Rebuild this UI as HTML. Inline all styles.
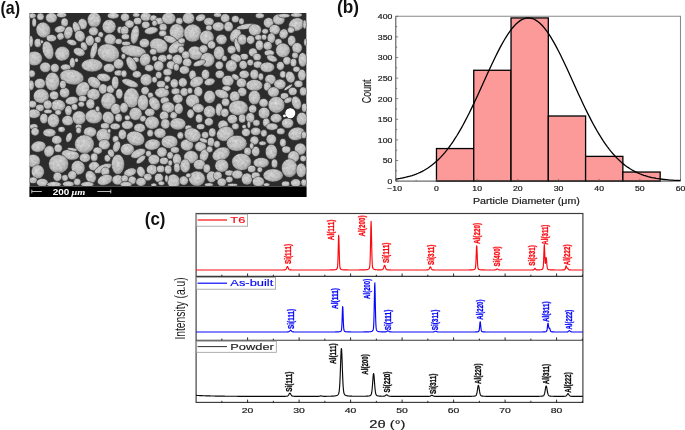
<!DOCTYPE html>
<html lang="en"><head><meta charset="utf-8"><title>Figure</title>
<style>html,body{margin:0;padding:0;background:#fff}body{width:685px;height:430px;overflow:hidden}svg{display:block}text{font-family:"Liberation Sans", sans-serif}</style>
</head><body>
<svg width="685" height="430" viewBox="0 0 685 430">
<defs>
<radialGradient id="pg" cx="45%" cy="42%" r="62%"><stop offset="0" stop-color="#cacaca"/><stop offset="0.6" stop-color="#bababa"/><stop offset="1" stop-color="#8a8a8a"/></radialGradient>
<filter id="bl" x="0" y="0" width="100%" height="100%" color-interpolation-filters="sRGB"><feGaussianBlur stdDeviation="0.65" result="b"/><feTurbulence type="fractalNoise" baseFrequency="0.4" numOctaves="2" seed="7" result="t"/><feColorMatrix in="t" type="matrix" values="1.6 0 0 0 -0.3  1.6 0 0 0 -0.3  1.6 0 0 0 -0.3  0 0 0 0 1" result="n"/><feComposite in="b" in2="n" operator="arithmetic" k1="0.16" k2="0.94" k3="0" k4="0" result="c"/><feComposite in="c" in2="b" operator="in"/></filter>
<clipPath id="semclip"><rect x="29.4" y="13" width="277.2" height="173.6"/></clipPath>
<clipPath id="bclip"><rect x="395.8" y="16.3" width="284.7" height="164.8"/></clipPath>
<clipPath id="cclip"><rect x="196" y="213.5" width="387" height="189"/></clipPath>
</defs>
<rect width="685" height="430" fill="#fff"/>
<g opacity="0.999">
<text x="0.4" y="13.6" font-size="17.8" font-weight="700" fill="#111" textLength="19.6" lengthAdjust="spacingAndGlyphs">(a)</text>
<text x="337.0" y="13.4" font-size="17.8" font-weight="700" fill="#111" textLength="22.0" lengthAdjust="spacingAndGlyphs">(b)</text>
<text x="144.8" y="225.4" font-size="17.8" font-weight="700" fill="#111" textLength="20.7" lengthAdjust="spacingAndGlyphs">(c)</text>
<g clip-path="url(#semclip)">
<rect x="29.4" y="13.0" width="277.2" height="173.6" fill="#2c2c2c"/>
<g filter="url(#bl)" fill="url(#pg)" stroke="#3c3c3c" stroke-width="0.55">
<ellipse cx="32.4" cy="15.7" rx="3.7" ry="2.8"/>
<ellipse cx="40.5" cy="16.8" rx="3.7" ry="3.7"/>
<ellipse cx="51.4" cy="17.8" rx="5.9" ry="5.2"/>
<ellipse cx="34.2" cy="22.5" rx="2.3" ry="4.5"/>
<ellipse cx="43.3" cy="30.0" rx="7.3" ry="8.0" transform="rotate(-20 43.3 30.0)"/>
<ellipse cx="51.4" cy="38.1" rx="5.2" ry="3.7"/>
<ellipse cx="64.6" cy="22.5" rx="3.7" ry="4.5"/>
<ellipse cx="60.0" cy="29.3" rx="5.6" ry="3.7" transform="rotate(-10 60.0 29.3)"/>
<ellipse cx="68.4" cy="32.7" rx="4.5" ry="6.6" transform="rotate(15 68.4 32.7)"/>
<ellipse cx="60.5" cy="36.4" rx="3.7" ry="3.7" transform="rotate(-30 60.5 36.4)"/>
<ellipse cx="82.6" cy="24.1" rx="4.7" ry="5.6" transform="rotate(-10 82.6 24.1)"/>
<ellipse cx="76.5" cy="27.9" rx="3.7" ry="6.6" transform="rotate(-20 76.5 27.9)"/>
<ellipse cx="79.9" cy="36.1" rx="5.2" ry="5.9" transform="rotate(-20 79.9 36.1)"/>
<ellipse cx="94.2" cy="19.8" rx="7.0" ry="7.6"/>
<ellipse cx="93.5" cy="31.3" rx="4.9" ry="4.5"/>
<ellipse cx="89.8" cy="40.6" rx="4.5" ry="5.4"/>
<ellipse cx="100.7" cy="34.7" rx="2.8" ry="3.0"/>
<ellipse cx="97.8" cy="39.7" rx="3.3" ry="3.3"/>
<ellipse cx="109.1" cy="26.6" rx="7.0" ry="7.0"/>
<ellipse cx="110.2" cy="39.5" rx="6.1" ry="5.6" transform="rotate(10 110.2 39.5)"/>
<ellipse cx="118.6" cy="41.5" rx="3.7" ry="3.0"/>
<ellipse cx="120.0" cy="30.0" rx="3.0" ry="3.7"/>
<ellipse cx="113.2" cy="15.7" rx="5.9" ry="3.3"/>
<ellipse cx="61.6" cy="15.0" rx="5.2" ry="2.8"/>
<ellipse cx="37.8" cy="42.9" rx="3.7" ry="4.5"/>
<ellipse cx="31.0" cy="41.5" rx="2.3" ry="5.9"/>
<ellipse cx="71.8" cy="42.5" rx="5.2" ry="3.0" transform="rotate(15 71.8 42.5)"/>
<ellipse cx="84.0" cy="46.3" rx="3.3" ry="4.5" transform="rotate(-20 84.0 46.3)"/>
<ellipse cx="48.0" cy="50.3" rx="5.6" ry="9.4" transform="rotate(-15 48.0 50.3)"/>
<ellipse cx="62.3" cy="53.7" rx="7.6" ry="7.3" transform="rotate(-20 62.3 53.7)"/>
<ellipse cx="79.2" cy="52.0" rx="6.1" ry="4.2" transform="rotate(20 79.2 52.0)"/>
<ellipse cx="93.8" cy="50.7" rx="3.3" ry="8.7" transform="rotate(15 93.8 50.7)"/>
<ellipse cx="108.4" cy="53.0" rx="11.2" ry="9.0" transform="rotate(15 108.4 53.0)"/>
<ellipse cx="34.4" cy="58.5" rx="8.0" ry="7.3"/>
<ellipse cx="72.4" cy="62.6" rx="3.0" ry="5.2"/>
<ellipse cx="45.3" cy="67.3" rx="5.6" ry="5.2"/>
<ellipse cx="54.8" cy="68.0" rx="4.5" ry="4.5"/>
<ellipse cx="65.7" cy="67.3" rx="5.2" ry="3.3"/>
<ellipse cx="92.1" cy="65.3" rx="10.8" ry="6.6"/>
<ellipse cx="109.1" cy="68.0" rx="5.9" ry="4.5"/>
<ellipse cx="118.6" cy="63.9" rx="5.2" ry="5.2"/>
<ellipse cx="76.5" cy="60.2" rx="1.9" ry="2.3"/>
<ellipse cx="41.9" cy="41.8" rx="1.6" ry="1.9"/>
<ellipse cx="125.0" cy="17.3" rx="4.5" ry="4.2"/>
<ellipse cx="136.3" cy="15.0" rx="3.7" ry="2.3"/>
<ellipse cx="145.8" cy="16.8" rx="5.6" ry="4.5"/>
<ellipse cx="153.5" cy="18.2" rx="3.7" ry="3.3"/>
<ellipse cx="137.6" cy="21.1" rx="4.2" ry="3.7"/>
<ellipse cx="129.5" cy="24.1" rx="4.7" ry="4.2"/>
<ellipse cx="145.8" cy="24.9" rx="4.2" ry="3.7"/>
<ellipse cx="124.7" cy="30.6" rx="4.2" ry="4.7"/>
<ellipse cx="134.9" cy="34.7" rx="4.2" ry="9.4" transform="rotate(10 134.9 34.7)"/>
<ellipse cx="125.4" cy="36.8" rx="4.2" ry="3.0"/>
<ellipse cx="151.2" cy="30.6" rx="7.0" ry="3.7" transform="rotate(-10 151.2 30.6)"/>
<ellipse cx="159.3" cy="21.1" rx="4.5" ry="3.7"/>
<ellipse cx="154.6" cy="23.2" rx="2.8" ry="3.0"/>
<ellipse cx="163.1" cy="27.3" rx="4.0" ry="4.0"/>
<ellipse cx="162.7" cy="33.4" rx="4.0" ry="3.3"/>
<ellipse cx="168.8" cy="18.4" rx="7.0" ry="6.1"/>
<ellipse cx="179.3" cy="21.1" rx="3.7" ry="3.7"/>
<ellipse cx="188.5" cy="18.2" rx="6.1" ry="5.9"/>
<ellipse cx="177.0" cy="32.0" rx="7.6" ry="8.4" transform="rotate(-15 177.0 32.0)"/>
<ellipse cx="192.6" cy="33.1" rx="9.0" ry="9.0"/>
<ellipse cx="170.2" cy="39.5" rx="7.0" ry="3.7" transform="rotate(20 170.2 39.5)"/>
<ellipse cx="200.7" cy="17.8" rx="5.2" ry="3.7" transform="rotate(-20 200.7 17.8)"/>
<ellipse cx="208.9" cy="21.8" rx="5.2" ry="4.2"/>
<ellipse cx="208.9" cy="27.9" rx="3.3" ry="3.0"/>
<ellipse cx="206.8" cy="37.4" rx="7.3" ry="7.3" transform="rotate(-20 206.8 37.4)"/>
<ellipse cx="211.6" cy="44.9" rx="4.2" ry="4.2"/>
<ellipse cx="144.4" cy="43.1" rx="5.2" ry="4.7"/>
<ellipse cx="158.7" cy="45.6" rx="9.4" ry="7.3" transform="rotate(20 158.7 45.6)"/>
<ellipse cx="133.5" cy="51.0" rx="12.9" ry="5.9" transform="rotate(10 133.5 51.0)"/>
<ellipse cx="126.1" cy="43.5" rx="4.5" ry="2.3"/>
<ellipse cx="176.3" cy="46.9" rx="9.4" ry="5.2" transform="rotate(-35 176.3 46.9)"/>
<ellipse cx="181.7" cy="40.8" rx="3.7" ry="3.0"/>
<ellipse cx="181.1" cy="49.7" rx="3.3" ry="3.7"/>
<ellipse cx="195.3" cy="53.0" rx="7.6" ry="7.0" transform="rotate(20 195.3 53.0)"/>
<ellipse cx="203.5" cy="49.0" rx="4.5" ry="4.2"/>
<ellipse cx="185.8" cy="55.1" rx="4.2" ry="4.2"/>
<ellipse cx="153.2" cy="51.7" rx="3.7" ry="3.3"/>
<ellipse cx="145.1" cy="59.8" rx="5.6" ry="6.6" transform="rotate(20 145.1 59.8)"/>
<ellipse cx="135.6" cy="59.8" rx="3.7" ry="2.8"/>
<ellipse cx="154.6" cy="58.5" rx="2.8" ry="2.8"/>
<ellipse cx="162.5" cy="58.5" rx="4.7" ry="4.0"/>
<ellipse cx="169.5" cy="57.1" rx="3.3" ry="3.0"/>
<ellipse cx="177.4" cy="59.8" rx="5.2" ry="5.6"/>
<ellipse cx="187.2" cy="62.6" rx="4.7" ry="4.5"/>
<ellipse cx="158.7" cy="65.9" rx="5.2" ry="5.2"/>
<ellipse cx="149.2" cy="68.0" rx="4.7" ry="3.7"/>
<ellipse cx="170.9" cy="65.3" rx="4.5" ry="4.5" transform="rotate(30 170.9 65.3)"/>
<ellipse cx="131.5" cy="63.9" rx="4.5" ry="8.0" transform="rotate(-30 131.5 63.9)"/>
<ellipse cx="123.4" cy="56.4" rx="2.3" ry="2.8"/>
<ellipse cx="207.5" cy="59.8" rx="7.3" ry="7.3" transform="rotate(-30 207.5 59.8)"/>
<ellipse cx="199.4" cy="63.2" rx="6.6" ry="3.0" transform="rotate(-20 199.4 63.2)"/>
<ellipse cx="184.4" cy="70.0" rx="5.2" ry="4.2"/>
<ellipse cx="176.3" cy="67.3" rx="3.0" ry="3.7"/>
<ellipse cx="217.7" cy="15.0" rx="4.2" ry="2.3"/>
<ellipse cx="225.2" cy="18.2" rx="4.7" ry="4.5"/>
<ellipse cx="235.4" cy="19.1" rx="4.0" ry="3.7"/>
<ellipse cx="241.5" cy="21.4" rx="2.8" ry="3.3"/>
<ellipse cx="218.4" cy="26.6" rx="6.1" ry="4.7"/>
<ellipse cx="228.6" cy="26.6" rx="4.7" ry="5.2"/>
<ellipse cx="221.5" cy="39.5" rx="5.6" ry="5.2"/>
<ellipse cx="235.4" cy="35.4" rx="5.2" ry="7.3" transform="rotate(30 235.4 35.4)"/>
<ellipse cx="237.4" cy="45.6" rx="2.8" ry="7.3" transform="rotate(-15 237.4 45.6)"/>
<ellipse cx="246.2" cy="26.6" rx="10.1" ry="2.8" transform="rotate(-10 246.2 26.6)"/>
<ellipse cx="255.0" cy="30.0" rx="6.6" ry="6.1"/>
<ellipse cx="242.2" cy="39.5" rx="4.7" ry="5.6"/>
<ellipse cx="250.6" cy="39.9" rx="4.2" ry="4.5"/>
<ellipse cx="258.4" cy="37.4" rx="3.7" ry="3.0"/>
<ellipse cx="264.1" cy="37.2" rx="2.8" ry="3.0"/>
<ellipse cx="265.2" cy="31.3" rx="3.3" ry="2.8"/>
<ellipse cx="268.6" cy="22.8" rx="5.2" ry="5.2"/>
<ellipse cx="274.7" cy="29.6" rx="5.6" ry="5.2"/>
<ellipse cx="278.8" cy="19.5" rx="6.1" ry="5.6"/>
<ellipse cx="271.3" cy="38.1" rx="4.2" ry="5.2"/>
<ellipse cx="283.6" cy="34.0" rx="4.5" ry="5.2" transform="rotate(20 283.6 34.0)"/>
<ellipse cx="296.5" cy="24.5" rx="8.0" ry="6.6" transform="rotate(-20 296.5 24.5)"/>
<ellipse cx="291.0" cy="30.0" rx="3.7" ry="3.3"/>
<ellipse cx="291.7" cy="40.8" rx="4.2" ry="5.6"/>
<ellipse cx="304.6" cy="24.5" rx="1.9" ry="4.5"/>
<ellipse cx="278.5" cy="42.2" rx="3.7" ry="3.7"/>
<ellipse cx="259.5" cy="45.3" rx="4.2" ry="5.2"/>
<ellipse cx="267.7" cy="45.9" rx="4.5" ry="4.5"/>
<ellipse cx="282.9" cy="50.3" rx="7.3" ry="7.3" transform="rotate(-20 282.9 50.3)"/>
<ellipse cx="297.1" cy="48.0" rx="5.2" ry="5.6"/>
<ellipse cx="295.1" cy="55.4" rx="3.3" ry="3.3"/>
<ellipse cx="302.6" cy="59.8" rx="4.5" ry="7.3"/>
<ellipse cx="219.1" cy="53.0" rx="5.6" ry="7.0"/>
<ellipse cx="231.6" cy="49.7" rx="4.5" ry="4.2"/>
<ellipse cx="253.0" cy="52.4" rx="4.5" ry="4.5"/>
<ellipse cx="244.2" cy="56.7" rx="4.2" ry="3.3"/>
<ellipse cx="257.1" cy="57.1" rx="4.2" ry="3.7"/>
<ellipse cx="236.0" cy="58.1" rx="5.6" ry="4.2" transform="rotate(20 236.0 58.1)"/>
<ellipse cx="224.5" cy="58.5" rx="2.8" ry="3.0"/>
<ellipse cx="269.3" cy="53.0" rx="5.2" ry="3.3"/>
<ellipse cx="272.0" cy="58.5" rx="5.6" ry="3.3" transform="rotate(20 272.0 58.5)"/>
<ellipse cx="287.0" cy="60.8" rx="4.2" ry="4.2"/>
<ellipse cx="293.5" cy="62.6" rx="3.3" ry="4.2"/>
<ellipse cx="219.3" cy="65.3" rx="4.2" ry="4.2"/>
<ellipse cx="231.3" cy="65.9" rx="5.9" ry="6.1"/>
<ellipse cx="243.2" cy="64.9" rx="4.2" ry="4.5"/>
<ellipse cx="250.3" cy="62.6" rx="3.3" ry="3.3"/>
<ellipse cx="257.8" cy="64.6" rx="4.5" ry="3.7"/>
<ellipse cx="267.3" cy="67.3" rx="7.3" ry="5.2"/>
<ellipse cx="280.4" cy="65.9" rx="4.0" ry="4.5"/>
<ellipse cx="296.5" cy="69.3" rx="3.7" ry="3.0"/>
<ellipse cx="284.2" cy="15.7" rx="5.9" ry="2.3"/>
<ellipse cx="296.5" cy="15.0" rx="5.9" ry="2.3"/>
<ellipse cx="259.8" cy="15.7" rx="4.5" ry="2.8"/>
<ellipse cx="305.3" cy="42.2" rx="1.6" ry="3.7"/>
<ellipse cx="31.7" cy="73.7" rx="3.7" ry="3.7"/>
<ellipse cx="39.9" cy="83.5" rx="5.6" ry="5.2"/>
<ellipse cx="52.4" cy="81.6" rx="7.3" ry="9.4"/>
<ellipse cx="71.8" cy="77.1" rx="12.2" ry="7.6" transform="rotate(10 71.8 77.1)"/>
<ellipse cx="31.0" cy="85.3" rx="3.3" ry="5.2"/>
<ellipse cx="41.2" cy="96.1" rx="8.0" ry="7.3"/>
<ellipse cx="54.1" cy="95.4" rx="4.7" ry="4.5"/>
<ellipse cx="64.6" cy="92.7" rx="5.2" ry="5.2"/>
<ellipse cx="62.9" cy="84.6" rx="3.3" ry="4.2"/>
<ellipse cx="82.6" cy="89.3" rx="6.6" ry="8.0" transform="rotate(35 82.6 89.3)"/>
<ellipse cx="94.2" cy="82.5" rx="7.3" ry="5.2" transform="rotate(35 94.2 82.5)"/>
<ellipse cx="103.7" cy="77.5" rx="7.0" ry="4.2" transform="rotate(10 103.7 77.5)"/>
<ellipse cx="103.0" cy="88.9" rx="4.5" ry="5.2"/>
<ellipse cx="110.5" cy="89.3" rx="4.2" ry="4.2"/>
<ellipse cx="115.2" cy="82.5" rx="3.7" ry="6.6"/>
<ellipse cx="119.3" cy="93.8" rx="3.7" ry="5.2"/>
<ellipse cx="118.6" cy="73.0" rx="4.5" ry="3.0"/>
<ellipse cx="93.5" cy="94.4" rx="6.6" ry="5.9"/>
<ellipse cx="82.6" cy="98.8" rx="4.2" ry="3.3"/>
<ellipse cx="90.4" cy="103.9" rx="4.5" ry="5.2"/>
<ellipse cx="108.4" cy="101.1" rx="7.6" ry="8.4"/>
<ellipse cx="58.2" cy="105.6" rx="7.3" ry="6.1"/>
<ellipse cx="71.8" cy="100.6" rx="6.6" ry="4.2" transform="rotate(-10 71.8 100.6)"/>
<ellipse cx="81.3" cy="104.3" rx="3.3" ry="2.8"/>
<ellipse cx="74.5" cy="107.0" rx="3.3" ry="3.3"/>
<ellipse cx="47.7" cy="104.7" rx="4.5" ry="4.7"/>
<ellipse cx="32.4" cy="104.3" rx="4.2" ry="3.7"/>
<ellipse cx="39.9" cy="107.9" rx="4.2" ry="3.7"/>
<ellipse cx="48.0" cy="111.5" rx="4.2" ry="2.3"/>
<ellipse cx="33.8" cy="113.8" rx="6.6" ry="4.7"/>
<ellipse cx="68.4" cy="110.6" rx="3.7" ry="5.2"/>
<ellipse cx="43.9" cy="118.5" rx="4.2" ry="5.2"/>
<ellipse cx="53.4" cy="120.6" rx="6.1" ry="7.0"/>
<ellipse cx="67.7" cy="120.6" rx="5.9" ry="5.2"/>
<ellipse cx="79.2" cy="117.8" rx="7.0" ry="7.0"/>
<ellipse cx="93.9" cy="116.5" rx="8.7" ry="7.3"/>
<ellipse cx="97.6" cy="109.0" rx="2.3" ry="3.0"/>
<ellipse cx="115.9" cy="109.0" rx="5.2" ry="5.6"/>
<ellipse cx="108.4" cy="117.8" rx="5.9" ry="6.6" transform="rotate(-20 108.4 117.8)"/>
<ellipse cx="118.6" cy="117.8" rx="3.7" ry="4.2"/>
<ellipse cx="33.8" cy="126.7" rx="4.2" ry="3.0"/>
<ellipse cx="78.6" cy="126.9" rx="3.3" ry="2.8"/>
<ellipse cx="105.0" cy="126.0" rx="4.5" ry="3.3"/>
<ellipse cx="115.2" cy="126.4" rx="5.2" ry="3.3"/>
<ellipse cx="61.6" cy="129.4" rx="3.7" ry="3.0"/>
<ellipse cx="58.2" cy="112.4" rx="3.3" ry="2.8"/>
<ellipse cx="124.0" cy="73.7" rx="3.0" ry="3.7"/>
<ellipse cx="136.9" cy="74.4" rx="4.7" ry="3.7"/>
<ellipse cx="146.2" cy="79.8" rx="6.1" ry="6.1"/>
<ellipse cx="130.1" cy="83.2" rx="8.7" ry="3.7" transform="rotate(20 130.1 83.2)"/>
<ellipse cx="158.7" cy="75.1" rx="3.3" ry="3.7"/>
<ellipse cx="154.6" cy="79.8" rx="2.8" ry="3.3"/>
<ellipse cx="167.5" cy="79.1" rx="3.3" ry="3.3"/>
<ellipse cx="167.5" cy="72.2" rx="4.5" ry="3.6"/>
<ellipse cx="161.1" cy="84.3" rx="4.5" ry="3.7"/>
<ellipse cx="174.3" cy="83.5" rx="4.2" ry="4.7"/>
<ellipse cx="182.8" cy="82.5" rx="4.5" ry="4.7"/>
<ellipse cx="192.6" cy="75.1" rx="3.7" ry="5.2"/>
<ellipse cx="196.7" cy="81.9" rx="7.3" ry="5.2" transform="rotate(-25 196.7 81.9)"/>
<ellipse cx="205.5" cy="74.4" rx="4.2" ry="5.2"/>
<ellipse cx="209.6" cy="81.9" rx="5.6" ry="3.7" transform="rotate(-15 209.6 81.9)"/>
<ellipse cx="131.5" cy="97.9" rx="8.0" ry="10.1"/>
<ellipse cx="145.1" cy="90.7" rx="4.2" ry="4.2"/>
<ellipse cx="150.5" cy="95.2" rx="3.0" ry="3.0"/>
<ellipse cx="143.0" cy="102.5" rx="5.6" ry="8.0"/>
<ellipse cx="154.6" cy="103.6" rx="5.2" ry="7.3" transform="rotate(-30 154.6 103.6)"/>
<ellipse cx="162.0" cy="92.7" rx="7.3" ry="5.2"/>
<ellipse cx="175.6" cy="91.4" rx="4.5" ry="3.3"/>
<ellipse cx="184.2" cy="92.0" rx="4.2" ry="4.2"/>
<ellipse cx="189.9" cy="90.7" rx="2.8" ry="3.3"/>
<ellipse cx="198.3" cy="91.6" rx="4.5" ry="5.2"/>
<ellipse cx="209.6" cy="96.8" rx="5.9" ry="6.6"/>
<ellipse cx="177.9" cy="98.8" rx="5.2" ry="4.7"/>
<ellipse cx="164.8" cy="100.6" rx="4.5" ry="3.7"/>
<ellipse cx="192.6" cy="100.9" rx="7.0" ry="6.6"/>
<ellipse cx="168.2" cy="107.4" rx="6.6" ry="5.6"/>
<ellipse cx="178.7" cy="108.7" rx="4.5" ry="5.6"/>
<ellipse cx="198.3" cy="108.3" rx="5.9" ry="4.7"/>
<ellipse cx="209.6" cy="111.7" rx="6.1" ry="6.1"/>
<ellipse cx="190.6" cy="113.8" rx="3.7" ry="4.7"/>
<ellipse cx="124.0" cy="107.7" rx="4.2" ry="5.2"/>
<ellipse cx="135.6" cy="113.8" rx="6.6" ry="6.6"/>
<ellipse cx="149.8" cy="112.4" rx="5.2" ry="4.2"/>
<ellipse cx="127.4" cy="117.8" rx="3.0" ry="2.8"/>
<ellipse cx="143.0" cy="118.8" rx="3.3" ry="3.3"/>
<ellipse cx="164.1" cy="115.8" rx="4.7" ry="4.7"/>
<ellipse cx="173.6" cy="115.5" rx="3.7" ry="3.7" transform="rotate(30 173.6 115.5)"/>
<ellipse cx="199.1" cy="118.5" rx="3.7" ry="4.5"/>
<ellipse cx="208.9" cy="121.9" rx="4.5" ry="4.2"/>
<ellipse cx="127.4" cy="125.0" rx="5.9" ry="4.5"/>
<ellipse cx="139.6" cy="128.0" rx="5.9" ry="4.7"/>
<ellipse cx="152.1" cy="122.6" rx="7.3" ry="6.6"/>
<ellipse cx="165.4" cy="123.9" rx="4.7" ry="5.2"/>
<ellipse cx="177.9" cy="123.9" rx="8.0" ry="6.1"/>
<ellipse cx="200.7" cy="126.7" rx="4.2" ry="3.0"/>
<ellipse cx="188.5" cy="128.0" rx="3.7" ry="3.0"/>
<ellipse cx="166.8" cy="87.3" rx="2.3" ry="2.3"/>
<ellipse cx="219.8" cy="74.4" rx="4.7" ry="4.2"/>
<ellipse cx="227.9" cy="80.8" rx="6.1" ry="5.6"/>
<ellipse cx="235.4" cy="77.1" rx="4.2" ry="2.8" transform="rotate(30 235.4 77.1)"/>
<ellipse cx="241.5" cy="82.9" rx="5.2" ry="4.9"/>
<ellipse cx="244.2" cy="74.4" rx="5.2" ry="4.2"/>
<ellipse cx="254.4" cy="74.4" rx="4.5" ry="5.2"/>
<ellipse cx="260.9" cy="76.7" rx="2.8" ry="3.7"/>
<ellipse cx="254.4" cy="85.3" rx="8.4" ry="5.9"/>
<ellipse cx="270.4" cy="79.4" rx="5.6" ry="5.2"/>
<ellipse cx="267.3" cy="86.6" rx="3.7" ry="4.5"/>
<ellipse cx="279.9" cy="84.3" rx="6.1" ry="5.2"/>
<ellipse cx="282.9" cy="74.4" rx="3.3" ry="3.7"/>
<ellipse cx="290.3" cy="77.1" rx="4.7" ry="6.1" transform="rotate(-20 290.3 77.1)"/>
<ellipse cx="298.5" cy="83.9" rx="4.5" ry="3.7"/>
<ellipse cx="301.9" cy="75.1" rx="4.2" ry="5.9"/>
<ellipse cx="226.5" cy="88.6" rx="4.5" ry="2.8"/>
<ellipse cx="221.8" cy="94.1" rx="7.3" ry="4.5" transform="rotate(20 221.8 94.1)"/>
<ellipse cx="242.2" cy="92.0" rx="4.7" ry="4.5"/>
<ellipse cx="234.7" cy="96.5" rx="5.2" ry="5.6"/>
<ellipse cx="225.6" cy="102.2" rx="4.2" ry="4.2"/>
<ellipse cx="219.1" cy="109.7" rx="3.7" ry="6.6"/>
<ellipse cx="224.8" cy="112.8" rx="4.2" ry="4.5"/>
<ellipse cx="238.4" cy="107.9" rx="9.8" ry="7.6"/>
<ellipse cx="254.4" cy="97.5" rx="6.1" ry="7.3"/>
<ellipse cx="273.4" cy="92.0" rx="5.9" ry="5.2"/>
<ellipse cx="263.6" cy="102.9" rx="4.7" ry="4.5"/>
<ellipse cx="252.7" cy="109.0" rx="4.2" ry="4.2"/>
<ellipse cx="276.4" cy="104.9" rx="8.4" ry="8.4"/>
<ellipse cx="284.5" cy="96.1" rx="4.2" ry="3.3"/>
<ellipse cx="292.7" cy="91.4" rx="4.5" ry="4.2"/>
<ellipse cx="288.3" cy="100.2" rx="4.5" ry="2.8" transform="rotate(-20 288.3 100.2)"/>
<ellipse cx="296.5" cy="102.9" rx="4.7" ry="7.0" transform="rotate(-20 296.5 102.9)"/>
<ellipse cx="303.2" cy="91.4" rx="3.7" ry="4.5"/>
<ellipse cx="304.3" cy="107.7" rx="2.8" ry="4.5"/>
<ellipse cx="264.1" cy="113.1" rx="5.9" ry="5.9"/>
<ellipse cx="276.1" cy="118.2" rx="5.9" ry="4.7"/>
<ellipse cx="301.9" cy="118.8" rx="5.6" ry="6.6"/>
<ellipse cx="232.4" cy="119.2" rx="5.2" ry="4.7"/>
<ellipse cx="242.2" cy="118.5" rx="3.7" ry="4.5"/>
<ellipse cx="250.3" cy="117.8" rx="4.5" ry="5.2"/>
<ellipse cx="256.4" cy="122.9" rx="3.7" ry="3.3"/>
<ellipse cx="266.3" cy="122.6" rx="3.7" ry="4.5"/>
<ellipse cx="287.6" cy="123.3" rx="6.1" ry="5.2"/>
<ellipse cx="223.1" cy="125.3" rx="5.2" ry="5.2"/>
<ellipse cx="235.4" cy="126.4" rx="3.7" ry="3.3"/>
<ellipse cx="272.0" cy="126.7" rx="6.1" ry="3.7"/>
<ellipse cx="288.3" cy="87.3" rx="5.2" ry="1.6" transform="rotate(-35 288.3 87.3)"/>
<ellipse cx="248.9" cy="124.6" rx="1.9" ry="3.7"/>
<ellipse cx="244.2" cy="126.7" rx="2.3" ry="2.3"/>
<ellipse cx="35.1" cy="131.7" rx="4.2" ry="4.2" transform="rotate(-20 35.1 131.7)"/>
<ellipse cx="49.4" cy="132.8" rx="6.6" ry="4.2"/>
<ellipse cx="78.6" cy="130.4" rx="2.8" ry="3.3"/>
<ellipse cx="90.1" cy="132.0" rx="6.6" ry="5.2"/>
<ellipse cx="103.4" cy="135.5" rx="7.3" ry="7.0"/>
<ellipse cx="122.4" cy="134.4" rx="4.2" ry="5.2"/>
<ellipse cx="56.8" cy="139.9" rx="5.2" ry="4.5"/>
<ellipse cx="69.0" cy="137.4" rx="3.0" ry="5.2" transform="rotate(20 69.0 137.4)"/>
<ellipse cx="38.5" cy="146.6" rx="7.6" ry="5.6" transform="rotate(-10 38.5 146.6)"/>
<ellipse cx="58.2" cy="148.3" rx="4.2" ry="4.2"/>
<ellipse cx="49.1" cy="151.4" rx="5.2" ry="5.9" transform="rotate(20 49.1 151.4)"/>
<ellipse cx="84.4" cy="144.2" rx="9.8" ry="9.4"/>
<ellipse cx="104.3" cy="144.6" rx="5.9" ry="5.2"/>
<ellipse cx="115.6" cy="139.2" rx="3.3" ry="3.7"/>
<ellipse cx="116.6" cy="146.6" rx="3.7" ry="5.9" transform="rotate(20 116.6 146.6)"/>
<ellipse cx="70.4" cy="154.8" rx="9.0" ry="5.2" transform="rotate(10 70.4 154.8)"/>
<ellipse cx="72.4" cy="149.4" rx="5.2" ry="1.6" transform="rotate(10 72.4 149.4)"/>
<ellipse cx="84.9" cy="157.8" rx="5.6" ry="4.7"/>
<ellipse cx="97.6" cy="150.7" rx="4.7" ry="3.7"/>
<ellipse cx="94.2" cy="157.2" rx="3.7" ry="4.2"/>
<ellipse cx="107.5" cy="158.2" rx="3.3" ry="3.7"/>
<ellipse cx="111.1" cy="153.2" rx="3.3" ry="4.2" transform="rotate(-20 111.1 153.2)"/>
<ellipse cx="33.1" cy="160.9" rx="7.3" ry="6.6"/>
<ellipse cx="58.6" cy="164.0" rx="10.1" ry="9.4"/>
<ellipse cx="37.8" cy="171.8" rx="6.6" ry="7.0"/>
<ellipse cx="78.1" cy="167.7" rx="7.0" ry="7.3" transform="rotate(-20 78.1 167.7)"/>
<ellipse cx="94.2" cy="166.3" rx="5.6" ry="4.7"/>
<ellipse cx="103.0" cy="168.4" rx="9.4" ry="3.7" transform="rotate(-25 103.0 168.4)"/>
<ellipse cx="105.3" cy="171.8" rx="4.5" ry="4.7"/>
<ellipse cx="117.9" cy="164.3" rx="6.6" ry="10.1"/>
<ellipse cx="57.5" cy="176.8" rx="4.5" ry="4.7" transform="rotate(20 57.5 176.8)"/>
<ellipse cx="65.0" cy="177.9" rx="3.3" ry="3.3"/>
<ellipse cx="72.2" cy="175.2" rx="4.5" ry="4.5"/>
<ellipse cx="90.8" cy="176.8" rx="5.2" ry="6.6" transform="rotate(-30 90.8 176.8)"/>
<ellipse cx="105.0" cy="179.9" rx="8.0" ry="5.2" transform="rotate(-20 105.0 179.9)"/>
<ellipse cx="117.9" cy="179.9" rx="5.9" ry="5.2"/>
<ellipse cx="33.1" cy="180.3" rx="4.2" ry="3.3"/>
<ellipse cx="42.3" cy="182.6" rx="5.9" ry="4.2"/>
<ellipse cx="54.1" cy="184.4" rx="7.3" ry="2.8"/>
<ellipse cx="68.4" cy="184.0" rx="5.9" ry="3.0"/>
<ellipse cx="77.2" cy="181.9" rx="3.7" ry="3.7"/>
<ellipse cx="87.4" cy="184.4" rx="6.6" ry="2.8"/>
<ellipse cx="109.1" cy="131.0" rx="1.9" ry="2.3"/>
<ellipse cx="135.6" cy="138.5" rx="9.4" ry="7.3" transform="rotate(20 135.6 138.5)"/>
<ellipse cx="150.2" cy="133.3" rx="3.3" ry="3.7"/>
<ellipse cx="160.0" cy="133.1" rx="6.1" ry="5.2"/>
<ellipse cx="180.4" cy="135.5" rx="3.3" ry="3.7"/>
<ellipse cx="169.5" cy="141.9" rx="8.4" ry="6.6"/>
<ellipse cx="152.5" cy="144.6" rx="8.0" ry="5.6" transform="rotate(-10 152.5 144.6)"/>
<ellipse cx="127.4" cy="149.4" rx="7.0" ry="6.1"/>
<ellipse cx="138.3" cy="153.4" rx="8.0" ry="4.2" transform="rotate(-25 138.3 153.4)"/>
<ellipse cx="148.5" cy="153.7" rx="3.0" ry="3.3"/>
<ellipse cx="162.0" cy="152.1" rx="5.2" ry="5.2" transform="rotate(-20 162.0 152.1)"/>
<ellipse cx="174.9" cy="150.0" rx="4.5" ry="3.3"/>
<ellipse cx="170.2" cy="155.5" rx="3.3" ry="3.7"/>
<ellipse cx="186.9" cy="145.0" rx="6.6" ry="5.9"/>
<ellipse cx="192.6" cy="135.1" rx="8.7" ry="7.0" transform="rotate(20 192.6 135.1)"/>
<ellipse cx="200.5" cy="146.6" rx="5.9" ry="5.2"/>
<ellipse cx="205.1" cy="135.1" rx="3.7" ry="3.7"/>
<ellipse cx="210.9" cy="141.9" rx="3.7" ry="4.5"/>
<ellipse cx="212.3" cy="132.4" rx="3.7" ry="4.5"/>
<ellipse cx="203.5" cy="140.5" rx="4.5" ry="2.3" transform="rotate(20 203.5 140.5)"/>
<ellipse cx="141.0" cy="159.5" rx="5.9" ry="2.8" transform="rotate(-40 141.0 159.5)"/>
<ellipse cx="153.9" cy="159.5" rx="5.9" ry="5.2"/>
<ellipse cx="164.1" cy="160.9" rx="4.5" ry="3.7"/>
<ellipse cx="177.0" cy="159.5" rx="4.5" ry="5.9"/>
<ellipse cx="177.0" cy="167.7" rx="3.3" ry="4.7"/>
<ellipse cx="191.0" cy="157.2" rx="7.3" ry="6.6"/>
<ellipse cx="204.1" cy="155.5" rx="4.5" ry="6.6" transform="rotate(20 204.1 155.5)"/>
<ellipse cx="209.6" cy="149.4" rx="3.3" ry="3.3"/>
<ellipse cx="185.1" cy="165.9" rx="5.2" ry="7.0"/>
<ellipse cx="199.4" cy="164.6" rx="6.1" ry="5.2"/>
<ellipse cx="206.8" cy="168.6" rx="3.7" ry="4.5"/>
<ellipse cx="130.1" cy="172.4" rx="6.6" ry="4.2" transform="rotate(-20 130.1 172.4)"/>
<ellipse cx="141.0" cy="171.8" rx="4.2" ry="5.6" transform="rotate(-20 141.0 171.8)"/>
<ellipse cx="151.9" cy="169.7" rx="5.6" ry="5.2"/>
<ellipse cx="160.7" cy="169.0" rx="4.2" ry="3.7"/>
<ellipse cx="168.2" cy="169.5" rx="3.7" ry="4.5"/>
<ellipse cx="147.8" cy="177.2" rx="4.2" ry="3.7"/>
<ellipse cx="158.9" cy="177.9" rx="4.5" ry="4.7"/>
<ellipse cx="132.2" cy="180.3" rx="4.2" ry="4.2"/>
<ellipse cx="141.0" cy="181.9" rx="5.2" ry="4.5"/>
<ellipse cx="124.7" cy="178.6" rx="3.7" ry="3.7"/>
<ellipse cx="126.1" cy="184.4" rx="5.9" ry="2.8"/>
<ellipse cx="173.6" cy="181.3" rx="6.6" ry="7.3" transform="rotate(-20 173.6 181.3)"/>
<ellipse cx="183.8" cy="180.6" rx="4.7" ry="4.7"/>
<ellipse cx="196.9" cy="178.6" rx="8.4" ry="7.6"/>
<ellipse cx="211.6" cy="176.8" rx="5.2" ry="5.9"/>
<ellipse cx="188.5" cy="175.4" rx="2.8" ry="2.3"/>
<ellipse cx="161.4" cy="183.3" rx="3.3" ry="2.3"/>
<ellipse cx="153.9" cy="184.9" rx="3.0" ry="1.9"/>
<ellipse cx="208.9" cy="184.7" rx="4.5" ry="1.9"/>
<ellipse cx="170.2" cy="162.9" rx="2.3" ry="3.0"/>
<ellipse cx="166.5" cy="178.6" rx="1.9" ry="3.7"/>
<ellipse cx="225.2" cy="133.8" rx="9.0" ry="7.3" transform="rotate(-20 225.2 133.8)"/>
<ellipse cx="236.7" cy="143.3" rx="10.4" ry="8.0"/>
<ellipse cx="246.0" cy="132.4" rx="4.5" ry="4.2"/>
<ellipse cx="255.7" cy="131.4" rx="5.2" ry="4.2"/>
<ellipse cx="263.9" cy="133.3" rx="3.3" ry="3.7"/>
<ellipse cx="280.8" cy="131.4" rx="4.2" ry="3.3"/>
<ellipse cx="271.3" cy="139.2" rx="5.2" ry="5.2"/>
<ellipse cx="254.4" cy="140.5" rx="4.5" ry="4.5"/>
<ellipse cx="262.5" cy="143.3" rx="3.7" ry="2.3"/>
<ellipse cx="282.9" cy="142.8" rx="3.3" ry="4.2"/>
<ellipse cx="296.5" cy="133.8" rx="8.7" ry="6.6" transform="rotate(-15 296.5 133.8)"/>
<ellipse cx="303.9" cy="135.1" rx="2.8" ry="3.7"/>
<ellipse cx="286.3" cy="149.6" rx="4.5" ry="3.7"/>
<ellipse cx="300.3" cy="149.1" rx="5.9" ry="6.1"/>
<ellipse cx="217.0" cy="144.2" rx="3.3" ry="3.7"/>
<ellipse cx="221.1" cy="154.1" rx="9.4" ry="6.6" transform="rotate(-25 221.1 154.1)"/>
<ellipse cx="247.6" cy="151.4" rx="3.7" ry="4.2"/>
<ellipse cx="255.7" cy="151.4" rx="4.2" ry="5.2"/>
<ellipse cx="271.3" cy="151.8" rx="6.1" ry="7.6"/>
<ellipse cx="293.5" cy="156.8" rx="5.9" ry="6.1"/>
<ellipse cx="303.2" cy="158.6" rx="3.3" ry="3.3"/>
<ellipse cx="221.8" cy="165.7" rx="7.0" ry="6.6"/>
<ellipse cx="241.5" cy="161.9" rx="9.8" ry="8.7"/>
<ellipse cx="261.2" cy="162.7" rx="8.0" ry="5.2"/>
<ellipse cx="274.5" cy="163.6" rx="3.3" ry="4.5"/>
<ellipse cx="251.7" cy="169.0" rx="4.2" ry="3.7"/>
<ellipse cx="289.4" cy="168.1" rx="8.0" ry="9.4"/>
<ellipse cx="301.2" cy="170.4" rx="5.2" ry="7.3"/>
<ellipse cx="229.3" cy="173.1" rx="4.5" ry="3.0"/>
<ellipse cx="237.4" cy="174.5" rx="5.6" ry="4.5"/>
<ellipse cx="217.7" cy="175.8" rx="4.5" ry="4.5"/>
<ellipse cx="229.3" cy="179.5" rx="3.7" ry="3.3"/>
<ellipse cx="221.8" cy="182.2" rx="4.7" ry="4.2"/>
<ellipse cx="246.9" cy="179.0" rx="5.6" ry="6.1"/>
<ellipse cx="255.7" cy="175.8" rx="4.5" ry="3.7"/>
<ellipse cx="258.4" cy="181.7" rx="6.1" ry="5.2"/>
<ellipse cx="273.1" cy="175.4" rx="10.1" ry="6.6"/>
<ellipse cx="285.6" cy="184.0" rx="4.2" ry="3.0"/>
<ellipse cx="295.8" cy="183.0" rx="5.2" ry="4.2"/>
<ellipse cx="303.9" cy="182.6" rx="3.0" ry="3.7"/>
<ellipse cx="266.6" cy="184.7" rx="3.3" ry="1.9"/>
<ellipse cx="232.6" cy="184.9" rx="5.2" ry="1.6"/>
<ellipse cx="259.8" cy="169.7" rx="2.8" ry="2.8"/>
<ellipse cx="251.7" cy="146.0" rx="2.3" ry="3.3"/>
<ellipse cx="290.3" cy="113.1" rx="5.2" ry="5.2" fill="#fff" stroke="none"/>
<ellipse cx="284.5" cy="115.8" rx="1.6" ry="1.6" fill="#fff" stroke="none"/>
</g></g>
<rect x="29.4" y="186.4" width="277.2" height="10.6" fill="#000"/>
<g stroke="#e8e8e8" stroke-width="0.8" fill="none"><path d="M31.8 189.6V193.4M31.8 191.5H41.8M97.3 191.5H110.8M110.8 189.6V193.4"/></g>
<text x="52.8" y="194.9" font-size="8.6" font-weight="700" fill="#fff" textLength="16.6" lengthAdjust="spacingAndGlyphs">200</text>
<text x="71.6" y="194.6" font-size="8.6" font-weight="700" font-style="italic" fill="#fff" style="font-family:'Liberation Serif','DejaVu Serif',serif" textLength="13.8" lengthAdjust="spacingAndGlyphs">μm</text>
<g fill="#fb9a99" stroke="#000" stroke-width="1.3">
<rect x="436.47" y="148.55" width="37.28" height="32.55"/>
<rect x="473.75" y="70.27" width="37.28" height="110.83"/>
<rect x="511.03" y="17.95" width="37.28" height="163.15"/>
<rect x="548.32" y="116.00" width="37.28" height="65.10"/>
<rect x="585.60" y="156.38" width="37.28" height="24.72"/>
<rect x="622.88" y="172.04" width="37.28" height="9.06"/>
</g>
<path d="M395.8 16.3H680.5V181.1" fill="none" stroke="#8a8a8a" stroke-width="1.1"/>
<path d="M395.8 16.3V181.1H680.5" fill="none" stroke="#333" stroke-width="0.9"/>
<path d="M395.8 181.10h2.4M395.8 160.50h2.4M395.8 139.90h2.4M395.8 119.30h2.4M395.8 98.70h2.4M395.8 78.10h2.4M395.8 57.50h2.4M395.8 36.90h2.4M395.8 16.30h2.4M395.8 170.80h1.4M395.8 150.20h1.4M395.8 129.60h1.4M395.8 109.00h1.4M395.8 88.40h1.4M395.8 67.80h1.4M395.8 47.20h1.4M395.8 26.60h1.4M395.80 181.1v-2.2M436.47 181.1v-2.2M477.14 181.1v-2.2M517.81 181.1v-2.2M558.49 181.1v-2.2M599.16 181.1v-2.2M639.83 181.1v-2.2M680.50 181.1v-2.2M416.14 181.1v-1.3M456.81 181.1v-1.3M497.48 181.1v-1.3M538.15 181.1v-1.3M578.82 181.1v-1.3M619.49 181.1v-1.3M660.16 181.1v-1.3" stroke="#555" stroke-width="0.7" fill="none"/>
<polyline points="395.80,179.08 397.83,178.79 399.87,178.47 401.90,178.10 403.93,177.69 405.97,177.24 408.00,176.73 410.04,176.17 412.07,175.55 414.10,174.85 416.14,174.09 418.17,173.25 420.20,172.33 422.24,171.33 424.27,170.22 426.30,169.02 428.34,167.72 430.37,166.30 432.40,164.77 434.44,163.11 436.47,161.33 438.50,159.42 440.54,157.37 442.57,155.18 444.61,152.85 446.64,150.37 448.67,147.74 450.71,144.97 452.74,142.04 454.77,138.96 456.81,135.74 458.84,132.37 460.87,128.85 462.91,125.20 464.94,121.42 466.98,117.51 469.01,113.48 471.04,109.35 473.08,105.13 475.11,100.82 477.14,96.44 479.18,92.01 481.21,87.54 483.24,83.04 485.28,78.55 487.31,74.07 489.34,69.62 491.38,65.23 493.41,60.91 495.44,56.69 497.48,52.59 499.51,48.63 501.55,44.82 503.58,41.20 505.61,37.78 507.65,34.57 509.68,31.61 511.71,28.90 513.75,26.46 515.78,24.30 517.81,22.44 519.85,20.89 521.88,19.66 523.91,18.76 525.95,18.19 527.98,17.95 530.02,18.06 532.05,18.49 534.08,19.26 536.12,20.36 538.15,21.79 540.18,23.52 542.22,25.56 544.25,27.89 546.28,30.49 548.32,33.36 550.35,36.47 552.38,39.81 554.42,43.35 556.45,47.09 558.49,50.99 560.52,55.04 562.55,59.21 564.59,63.49 566.62,67.85 568.65,72.28 570.69,76.75 572.72,81.24 574.75,85.74 576.79,90.22 578.82,94.67 580.86,99.07 582.89,103.41 584.92,107.67 586.96,111.84 588.99,115.91 591.02,119.87 593.06,123.70 595.09,127.41 597.12,130.98 599.16,134.41 601.19,137.69 603.22,140.83 605.26,143.81 607.29,146.65 609.33,149.34 611.36,151.88 613.39,154.27 615.43,156.51 617.46,158.62 619.49,160.58 621.53,162.42 623.56,164.12 625.59,165.70 627.63,167.16 629.66,168.51 631.69,169.76 633.73,170.90 635.76,171.94 637.79,172.90 639.83,173.77 641.86,174.56 643.90,175.28 645.93,175.93 647.96,176.51 650.00,177.04 652.03,177.52 654.06,177.94 656.10,178.33 658.13,178.67 660.16,178.97 662.20,179.24 664.23,179.48 666.26,179.69 668.30,179.87 670.33,180.04 672.37,180.18 674.40,180.31 676.43,180.42 678.47,180.51 680.50,180.60" fill="none" stroke="#000" stroke-width="1.3" clip-path="url(#bclip)"/>
<text transform="translate(392.30 184.00) scale(1.380 1)" font-size="6.30" text-anchor="end" fill="#1a1a1a" font-weight="400" stroke="#1a1a1a" stroke-width="0.18">0</text>
<text transform="translate(392.30 163.40) scale(1.380 1)" font-size="6.30" text-anchor="end" fill="#1a1a1a" font-weight="400" stroke="#1a1a1a" stroke-width="0.18">50</text>
<text transform="translate(392.30 142.80) scale(1.380 1)" font-size="6.30" text-anchor="end" fill="#1a1a1a" font-weight="400" stroke="#1a1a1a" stroke-width="0.18">100</text>
<text transform="translate(392.30 122.20) scale(1.380 1)" font-size="6.30" text-anchor="end" fill="#1a1a1a" font-weight="400" stroke="#1a1a1a" stroke-width="0.18">150</text>
<text transform="translate(392.30 101.60) scale(1.380 1)" font-size="6.30" text-anchor="end" fill="#1a1a1a" font-weight="400" stroke="#1a1a1a" stroke-width="0.18">200</text>
<text transform="translate(392.30 81.00) scale(1.380 1)" font-size="6.30" text-anchor="end" fill="#1a1a1a" font-weight="400" stroke="#1a1a1a" stroke-width="0.18">250</text>
<text transform="translate(392.30 60.40) scale(1.380 1)" font-size="6.30" text-anchor="end" fill="#1a1a1a" font-weight="400" stroke="#1a1a1a" stroke-width="0.18">300</text>
<text transform="translate(392.30 39.80) scale(1.380 1)" font-size="6.30" text-anchor="end" fill="#1a1a1a" font-weight="400" stroke="#1a1a1a" stroke-width="0.18">350</text>
<text transform="translate(392.30 19.20) scale(1.380 1)" font-size="6.30" text-anchor="end" fill="#1a1a1a" font-weight="400" stroke="#1a1a1a" stroke-width="0.18">400</text>
<text transform="translate(394.60 191.00) scale(1.380 1)" font-size="6.30" text-anchor="middle" fill="#1a1a1a" font-weight="400" stroke="#1a1a1a" stroke-width="0.18">−10</text>
<text transform="translate(436.47 191.00) scale(1.380 1)" font-size="6.30" text-anchor="middle" fill="#1a1a1a" font-weight="400" stroke="#1a1a1a" stroke-width="0.18">0</text>
<text transform="translate(477.14 191.00) scale(1.380 1)" font-size="6.30" text-anchor="middle" fill="#1a1a1a" font-weight="400" stroke="#1a1a1a" stroke-width="0.18">10</text>
<text transform="translate(517.81 191.00) scale(1.380 1)" font-size="6.30" text-anchor="middle" fill="#1a1a1a" font-weight="400" stroke="#1a1a1a" stroke-width="0.18">20</text>
<text transform="translate(558.49 191.00) scale(1.380 1)" font-size="6.30" text-anchor="middle" fill="#1a1a1a" font-weight="400" stroke="#1a1a1a" stroke-width="0.18">30</text>
<text transform="translate(599.16 191.00) scale(1.380 1)" font-size="6.30" text-anchor="middle" fill="#1a1a1a" font-weight="400" stroke="#1a1a1a" stroke-width="0.18">40</text>
<text transform="translate(639.83 191.00) scale(1.380 1)" font-size="6.30" text-anchor="middle" fill="#1a1a1a" font-weight="400" stroke="#1a1a1a" stroke-width="0.18">50</text>
<text transform="translate(680.50 191.00) scale(1.380 1)" font-size="6.30" text-anchor="middle" fill="#1a1a1a" font-weight="400" stroke="#1a1a1a" stroke-width="0.18">60</text>
<text transform="translate(526.40 203.60) scale(1.270 1)" font-size="8.40" text-anchor="middle" fill="#1a1a1a" font-weight="400" stroke="#1a1a1a" stroke-width="0.18">Particle Diameter (μm)</text>
<text transform="translate(370.70 91.30) rotate(-90) scale(0.685 1)" font-size="13.00" text-anchor="middle" fill="#1a1a1a" font-weight="400" stroke="#1a1a1a" stroke-width="0.18">Count</text>
<g fill="none" stroke="#3a3a3a" stroke-width="1.15">
<rect x="196.1" y="213.5" width="386.8" height="188.9"/>
<path d="M196.1 276.3H582.9M196.1 340.2H582.9"/>
</g>
<path d="M247.60 276.3v-2.8M299.10 276.3v-2.8M350.60 276.3v-2.8M402.10 276.3v-2.8M453.60 276.3v-2.8M505.10 276.3v-2.8M556.60 276.3v-2.8M221.85 276.3v-1.6M273.35 276.3v-1.6M324.85 276.3v-1.6M376.35 276.3v-1.6M427.85 276.3v-1.6M479.35 276.3v-1.6M530.85 276.3v-1.6M582.35 276.3v-1.6M247.60 340.2v-2.8M299.10 340.2v-2.8M350.60 340.2v-2.8M402.10 340.2v-2.8M453.60 340.2v-2.8M505.10 340.2v-2.8M556.60 340.2v-2.8M221.85 340.2v-1.6M273.35 340.2v-1.6M324.85 340.2v-1.6M376.35 340.2v-1.6M427.85 340.2v-1.6M479.35 340.2v-1.6M530.85 340.2v-1.6M582.35 340.2v-1.6M247.60 402.4v-2.8M299.10 402.4v-2.8M350.60 402.4v-2.8M402.10 402.4v-2.8M453.60 402.4v-2.8M505.10 402.4v-2.8M556.60 402.4v-2.8M221.85 402.4v-1.6M273.35 402.4v-1.6M324.85 402.4v-1.6M376.35 402.4v-1.6M427.85 402.4v-1.6M479.35 402.4v-1.6M530.85 402.4v-1.6M582.35 402.4v-1.6" stroke="#111" stroke-width="0.9" fill="none"/>
<polyline points="196.10,270.00 196.35,270.00 196.60,270.00 196.85,270.00 197.10,270.00 197.35,270.00 197.60,270.00 197.85,270.00 198.10,270.00 198.35,270.00 198.60,270.00 198.85,270.00 199.10,270.00 199.35,270.00 199.60,270.00 199.85,270.00 200.10,270.00 200.35,270.00 200.60,270.00 200.85,270.00 201.10,270.00 201.35,270.00 201.60,270.00 201.85,270.00 202.10,270.00 202.35,270.00 202.60,270.00 202.85,270.00 203.10,270.00 203.35,270.00 203.60,270.00 203.85,270.00 204.10,270.00 204.35,270.00 204.60,270.00 204.85,270.00 205.10,270.00 205.35,270.00 205.60,270.00 205.85,270.00 206.10,270.00 206.35,270.00 206.60,270.00 206.85,270.00 207.10,270.00 207.35,270.00 207.60,270.00 207.85,270.00 208.10,270.00 208.35,270.00 208.60,270.00 208.85,270.00 209.10,270.00 209.35,270.00 209.60,270.00 209.85,270.00 210.10,270.00 210.35,270.00 210.60,270.00 210.85,270.00 211.10,270.00 211.35,270.00 211.60,270.00 211.85,270.00 212.10,270.00 212.35,270.00 212.60,270.00 212.85,270.00 213.10,270.00 213.35,270.00 213.60,270.00 213.85,270.00 214.10,270.00 214.35,270.00 214.60,270.00 214.85,270.00 215.10,270.00 215.35,270.00 215.60,270.00 215.85,270.00 216.10,270.00 216.35,270.00 216.60,270.00 216.85,270.00 217.10,270.00 217.35,270.00 217.60,270.00 217.85,270.00 218.10,270.00 218.35,270.00 218.60,270.00 218.85,270.00 219.10,270.00 219.35,270.00 219.60,270.00 219.85,270.00 220.10,270.00 220.35,270.00 220.60,270.00 220.85,270.00 221.10,270.00 221.35,270.00 221.60,270.00 221.85,270.00 222.10,270.00 222.35,270.00 222.60,270.00 222.85,270.00 223.10,270.00 223.35,270.00 223.60,270.00 223.85,270.00 224.10,270.00 224.35,270.00 224.60,270.00 224.85,270.00 225.10,270.00 225.35,270.00 225.60,270.00 225.85,270.00 226.10,270.00 226.35,270.00 226.60,270.00 226.85,270.00 227.10,270.00 227.35,270.00 227.60,270.00 227.85,270.00 228.10,270.00 228.35,270.00 228.60,270.00 228.85,270.00 229.10,270.00 229.35,270.00 229.60,270.00 229.85,270.00 230.10,270.00 230.35,270.00 230.60,270.00 230.85,270.00 231.10,270.00 231.35,270.00 231.60,270.00 231.85,270.00 232.10,270.00 232.35,270.00 232.60,270.00 232.85,270.00 233.10,270.00 233.35,270.00 233.60,270.00 233.85,270.00 234.10,270.00 234.35,270.00 234.60,270.00 234.85,270.00 235.10,270.00 235.35,270.00 235.60,270.00 235.85,270.00 236.10,270.00 236.35,270.00 236.60,270.00 236.85,270.00 237.10,270.00 237.35,270.00 237.60,270.00 237.85,270.00 238.10,270.00 238.35,270.00 238.60,270.00 238.85,270.00 239.10,270.00 239.35,270.00 239.60,270.00 239.85,270.00 240.10,270.00 240.35,270.00 240.60,270.00 240.85,270.00 241.10,270.00 241.35,270.00 241.60,270.00 241.85,270.00 242.10,270.00 242.35,270.00 242.60,270.00 242.85,270.00 243.10,270.00 243.35,270.00 243.60,270.00 243.85,270.00 244.10,270.00 244.35,270.00 244.60,270.00 244.85,270.00 245.10,270.00 245.35,270.00 245.60,270.00 245.85,270.00 246.10,270.00 246.35,270.00 246.60,270.00 246.85,270.00 247.10,270.00 247.35,270.00 247.60,270.00 247.85,270.00 248.10,270.00 248.35,270.00 248.60,270.00 248.85,270.00 249.10,270.00 249.35,270.00 249.60,270.00 249.85,270.00 250.10,270.00 250.35,270.00 250.60,270.00 250.85,270.00 251.10,270.00 251.35,270.00 251.60,270.00 251.85,270.00 252.10,270.00 252.35,270.00 252.60,270.00 252.85,270.00 253.10,270.00 253.35,270.00 253.60,270.00 253.85,270.00 254.10,270.00 254.35,270.00 254.60,270.00 254.85,270.00 255.10,270.00 255.35,270.00 255.60,270.00 255.85,270.00 256.10,270.00 256.35,270.00 256.60,270.00 256.85,270.00 257.10,270.00 257.35,270.00 257.60,270.00 257.85,270.00 258.10,270.00 258.35,270.00 258.60,270.00 258.85,270.00 259.10,270.00 259.35,270.00 259.60,270.00 259.85,270.00 260.10,270.00 260.35,270.00 260.60,270.00 260.85,270.00 261.10,270.00 261.35,270.00 261.60,270.00 261.85,270.00 262.10,270.00 262.35,270.00 262.60,270.00 262.85,270.00 263.10,270.00 263.35,270.00 263.60,270.00 263.85,270.00 264.10,270.00 264.35,270.00 264.60,270.00 264.85,270.00 265.10,270.00 265.35,270.00 265.60,270.00 265.85,270.00 266.10,270.00 266.35,270.00 266.60,270.00 266.85,270.00 267.10,270.00 267.35,270.00 267.60,270.00 267.85,270.00 268.10,270.00 268.35,270.00 268.60,270.00 268.85,270.00 269.10,270.00 269.35,270.00 269.60,270.00 269.85,270.00 270.10,270.00 270.35,269.99 270.60,269.99 270.85,269.99 271.10,269.99 271.35,269.99 271.60,269.99 271.85,269.99 272.10,269.99 272.35,269.99 272.60,269.99 272.85,269.99 273.10,269.99 273.35,269.99 273.60,269.99 273.85,269.99 274.10,269.99 274.35,269.99 274.60,269.99 274.85,269.99 275.10,269.99 275.35,269.99 275.60,269.99 275.85,269.99 276.10,269.99 276.35,269.99 276.60,269.99 276.85,269.99 277.10,269.99 277.35,269.99 277.60,269.99 277.85,269.99 278.10,269.99 278.35,269.99 278.60,269.99 278.85,269.98 279.10,269.98 279.35,269.98 279.60,269.98 279.85,269.98 280.10,269.98 280.35,269.98 280.60,269.98 280.85,269.98 281.10,269.97 281.35,269.97 281.60,269.97 281.85,269.97 282.10,269.96 282.35,269.96 282.60,269.96 282.85,269.95 283.10,269.95 283.35,269.94 283.60,269.93 283.85,269.92 284.10,269.91 284.35,269.90 284.60,269.88 284.85,269.85 285.10,269.81 285.35,269.74 285.60,269.61 285.85,269.40 286.10,269.06 286.35,268.59 286.60,268.00 286.85,267.35 287.10,266.79 287.35,266.51 287.60,266.63 287.85,267.10 288.10,267.74 288.35,268.37 288.60,268.89 288.85,269.28 289.10,269.54 289.35,269.69 289.60,269.79 289.85,269.84 290.10,269.87 290.35,269.89 290.60,269.91 290.85,269.92 291.10,269.93 291.35,269.94 291.60,269.94 291.85,269.95 292.10,269.95 292.35,269.96 292.60,269.96 292.85,269.96 293.10,269.97 293.35,269.97 293.60,269.97 293.85,269.97 294.10,269.97 294.35,269.98 294.60,269.98 294.85,269.98 295.10,269.98 295.35,269.98 295.60,269.98 295.85,269.98 296.10,269.98 296.35,269.98 296.60,269.98 296.85,269.99 297.10,269.99 297.35,269.99 297.60,269.99 297.85,269.99 298.10,269.99 298.35,269.99 298.60,269.99 298.85,269.99 299.10,269.99 299.35,269.99 299.60,269.99 299.85,269.99 300.10,269.99 300.35,269.99 300.60,269.99 300.85,269.99 301.10,269.99 301.35,269.99 301.60,269.99 301.85,269.99 302.10,269.99 302.35,269.99 302.60,269.99 302.85,269.99 303.10,269.99 303.35,269.99 303.60,269.99 303.85,269.99 304.10,269.99 304.35,269.99 304.60,269.99 304.85,269.99 305.10,269.99 305.35,269.99 305.60,269.99 305.85,269.99 306.10,269.99 306.35,269.99 306.60,269.99 306.85,269.99 307.10,269.99 307.35,269.99 307.60,269.99 307.85,269.99 308.10,269.99 308.35,269.99 308.60,269.99 308.85,269.99 309.10,269.99 309.35,269.99 309.60,269.99 309.85,269.99 310.10,269.99 310.35,269.99 310.60,269.99 310.85,269.99 311.10,269.99 311.35,269.99 311.60,269.99 311.85,269.99 312.10,269.99 312.35,269.99 312.60,269.99 312.85,269.99 313.10,269.99 313.35,269.99 313.60,269.99 313.85,269.99 314.10,269.99 314.35,269.99 314.60,269.99 314.85,269.99 315.10,269.99 315.35,269.99 315.60,269.99 315.85,269.99 316.10,269.99 316.35,269.99 316.60,269.99 316.85,269.99 317.10,269.99 317.35,269.99 317.60,269.99 317.85,269.99 318.10,269.99 318.35,269.99 318.60,269.99 318.85,269.99 319.10,269.99 319.35,269.99 319.60,269.99 319.85,269.99 320.10,269.99 320.35,269.98 320.60,269.98 320.85,269.98 321.10,269.98 321.35,269.98 321.60,269.98 321.85,269.98 322.10,269.98 322.35,269.98 322.60,269.98 322.85,269.98 323.10,269.98 323.35,269.98 323.60,269.98 323.85,269.98 324.10,269.98 324.35,269.98 324.60,269.98 324.85,269.98 325.10,269.98 325.35,269.97 325.60,269.97 325.85,269.97 326.10,269.97 326.35,269.97 326.60,269.97 326.85,269.97 327.10,269.97 327.35,269.97 327.60,269.96 327.85,269.96 328.10,269.96 328.35,269.96 328.60,269.96 328.85,269.96 329.10,269.95 329.35,269.95 329.60,269.95 329.85,269.95 330.10,269.94 330.35,269.94 330.60,269.94 330.85,269.93 331.10,269.93 331.35,269.93 331.60,269.92 331.85,269.91 332.10,269.91 332.35,269.90 332.60,269.89 332.85,269.89 333.10,269.88 333.35,269.86 333.60,269.85 333.85,269.84 334.10,269.82 334.35,269.80 334.60,269.77 334.85,269.74 335.10,269.71 335.35,269.67 335.60,269.61 335.85,269.55 336.10,269.46 336.35,269.35 336.60,269.19 336.85,268.97 337.10,268.61 337.35,267.86 337.60,266.05 337.85,261.89 338.10,254.16 338.35,243.65 338.60,235.32 338.85,236.42 339.10,245.80 339.35,256.00 339.60,262.99 339.85,266.55 340.10,268.07 340.35,268.70 340.60,269.02 340.85,269.23 341.10,269.37 341.35,269.48 341.60,269.56 341.85,269.62 342.10,269.67 342.35,269.71 342.60,269.75 342.85,269.78 343.10,269.80 343.35,269.82 343.60,269.84 343.85,269.85 344.10,269.86 344.35,269.87 344.60,269.88 344.85,269.89 345.10,269.90 345.35,269.90 345.60,269.91 345.85,269.92 346.10,269.92 346.35,269.92 346.60,269.93 346.85,269.93 347.10,269.93 347.35,269.94 347.60,269.94 347.85,269.94 348.10,269.94 348.35,269.95 348.60,269.95 348.85,269.95 349.10,269.95 349.35,269.95 349.60,269.95 349.85,269.95 350.10,269.96 350.35,269.96 350.60,269.96 350.85,269.96 351.10,269.96 351.35,269.96 351.60,269.96 351.85,269.96 352.10,269.96 352.35,269.96 352.60,269.96 352.85,269.96 353.10,269.96 353.35,269.96 353.60,269.96 353.85,269.96 354.10,269.96 354.35,269.96 354.60,269.96 354.85,269.96 355.10,269.96 355.35,269.96 355.60,269.96 355.85,269.96 356.10,269.96 356.35,269.96 356.60,269.96 356.85,269.96 357.10,269.96 357.35,269.95 357.60,269.95 357.85,269.95 358.10,269.95 358.35,269.95 358.60,269.95 358.85,269.95 359.10,269.95 359.35,269.94 359.60,269.94 359.85,269.94 360.10,269.94 360.35,269.94 360.60,269.93 360.85,269.93 361.10,269.93 361.35,269.93 361.60,269.92 361.85,269.92 362.10,269.91 362.35,269.91 362.60,269.91 362.85,269.90 363.10,269.89 363.35,269.89 363.60,269.88 363.85,269.87 364.10,269.87 364.35,269.86 364.60,269.85 364.85,269.83 365.10,269.82 365.35,269.81 365.60,269.79 365.85,269.77 366.10,269.75 366.35,269.72 366.60,269.69 366.85,269.66 367.10,269.62 367.35,269.56 367.60,269.50 367.85,269.43 368.10,269.33 368.35,269.22 368.60,269.06 368.85,268.86 369.10,268.57 369.35,268.11 369.60,267.22 369.85,265.23 370.10,260.86 370.35,252.62 370.60,240.37 370.85,227.40 371.10,221.29 371.35,227.40 371.60,240.37 371.85,252.62 372.10,260.86 372.35,265.23 372.60,267.22 372.85,268.11 373.10,268.56 373.35,268.85 373.60,269.06 373.85,269.21 374.10,269.33 374.35,269.42 374.60,269.50 374.85,269.56 375.10,269.61 375.35,269.65 375.60,269.68 375.85,269.71 376.10,269.74 376.35,269.76 376.60,269.78 376.85,269.79 377.10,269.80 377.35,269.82 377.60,269.83 377.85,269.83 378.10,269.84 378.35,269.85 378.60,269.85 378.85,269.86 379.10,269.86 379.35,269.86 379.60,269.86 379.85,269.86 380.10,269.86 380.35,269.85 380.60,269.85 380.85,269.84 381.10,269.83 381.35,269.82 381.60,269.80 381.85,269.78 382.10,269.74 382.35,269.68 382.60,269.57 382.85,269.39 383.10,269.07 383.35,268.59 383.60,267.92 383.85,267.10 384.10,266.24 384.35,265.54 384.60,265.26 384.85,265.54 385.10,266.24 385.35,267.11 385.60,267.93 385.85,268.60 386.10,269.09 386.35,269.40 386.60,269.59 386.85,269.71 387.10,269.77 387.35,269.81 387.60,269.84 387.85,269.86 388.10,269.87 388.35,269.89 388.60,269.90 388.85,269.91 389.10,269.92 389.35,269.92 389.60,269.93 389.85,269.93 390.10,269.94 390.35,269.94 390.60,269.94 390.85,269.95 391.10,269.95 391.35,269.95 391.60,269.96 391.85,269.96 392.10,269.96 392.35,269.96 392.60,269.96 392.85,269.96 393.10,269.97 393.35,269.97 393.60,269.97 393.85,269.97 394.10,269.97 394.35,269.97 394.60,269.97 394.85,269.97 395.10,269.97 395.35,269.98 395.60,269.98 395.85,269.98 396.10,269.98 396.35,269.98 396.60,269.98 396.85,269.98 397.10,269.98 397.35,269.98 397.60,269.98 397.85,269.98 398.10,269.98 398.35,269.98 398.60,269.98 398.85,269.98 399.10,269.98 399.35,269.98 399.60,269.98 399.85,269.98 400.10,269.98 400.35,269.98 400.60,269.98 400.85,269.99 401.10,269.99 401.35,269.99 401.60,269.99 401.85,269.99 402.10,269.99 402.35,269.99 402.60,269.99 402.85,269.99 403.10,269.99 403.35,269.99 403.60,269.99 403.85,269.99 404.10,269.99 404.35,269.99 404.60,269.99 404.85,269.99 405.10,269.99 405.35,269.99 405.60,269.99 405.85,269.99 406.10,269.99 406.35,269.99 406.60,269.99 406.85,269.99 407.10,269.99 407.35,269.99 407.60,269.99 407.85,269.99 408.10,269.99 408.35,269.99 408.60,269.99 408.85,269.99 409.10,269.99 409.35,269.99 409.60,269.99 409.85,269.99 410.10,269.99 410.35,269.99 410.60,269.99 410.85,269.99 411.10,269.99 411.35,269.99 411.60,269.99 411.85,269.99 412.10,269.99 412.35,269.99 412.60,269.99 412.85,269.99 413.10,269.99 413.35,269.99 413.60,269.99 413.85,269.99 414.10,269.99 414.35,269.99 414.60,269.99 414.85,269.99 415.10,269.99 415.35,269.99 415.60,269.99 415.85,269.99 416.10,269.99 416.35,269.99 416.60,269.99 416.85,269.99 417.10,269.99 417.35,269.99 417.60,269.99 417.85,269.99 418.10,269.99 418.35,269.99 418.60,269.99 418.85,269.99 419.10,269.99 419.35,269.99 419.60,269.99 419.85,269.99 420.10,269.99 420.35,269.99 420.60,269.98 420.85,269.98 421.10,269.98 421.35,269.98 421.60,269.98 421.85,269.98 422.10,269.98 422.35,269.98 422.60,269.98 422.85,269.98 423.10,269.98 423.35,269.98 423.60,269.97 423.85,269.97 424.10,269.97 424.35,269.97 424.60,269.97 424.85,269.97 425.10,269.96 425.35,269.96 425.60,269.96 425.85,269.95 426.10,269.95 426.35,269.94 426.60,269.93 426.85,269.92 427.10,269.91 427.35,269.90 427.60,269.88 427.85,269.85 428.10,269.80 428.35,269.72 428.60,269.57 428.85,269.34 429.10,268.99 429.35,268.50 429.60,267.93 429.85,267.35 430.10,266.92 430.35,266.80 430.60,267.06 430.85,267.57 431.10,268.17 431.35,268.71 431.60,269.14 431.85,269.45 432.10,269.64 432.35,269.76 432.60,269.82 432.85,269.86 433.10,269.89 433.35,269.90 433.60,269.92 433.85,269.93 434.10,269.94 434.35,269.94 434.60,269.95 434.85,269.95 435.10,269.96 435.35,269.96 435.60,269.96 435.85,269.97 436.10,269.97 436.35,269.97 436.60,269.97 436.85,269.97 437.10,269.98 437.35,269.98 437.60,269.98 437.85,269.98 438.10,269.98 438.35,269.98 438.60,269.98 438.85,269.98 439.10,269.98 439.35,269.98 439.60,269.98 439.85,269.99 440.10,269.99 440.35,269.99 440.60,269.99 440.85,269.99 441.10,269.99 441.35,269.99 441.60,269.99 441.85,269.99 442.10,269.99 442.35,269.99 442.60,269.99 442.85,269.99 443.10,269.99 443.35,269.99 443.60,269.99 443.85,269.99 444.10,269.99 444.35,269.99 444.60,269.99 444.85,269.99 445.10,269.99 445.35,269.99 445.60,269.99 445.85,269.99 446.10,269.99 446.35,269.99 446.60,269.99 446.85,269.99 447.10,269.99 447.35,269.99 447.60,269.99 447.85,269.99 448.10,269.99 448.35,269.99 448.60,269.99 448.85,269.99 449.10,269.99 449.35,269.99 449.60,269.99 449.85,269.99 450.10,269.99 450.35,269.99 450.60,269.99 450.85,269.99 451.10,269.99 451.35,269.99 451.60,269.99 451.85,269.99 452.10,269.99 452.35,269.99 452.60,269.99 452.85,269.99 453.10,269.99 453.35,269.99 453.60,269.99 453.85,269.99 454.10,269.99 454.35,269.99 454.60,269.99 454.85,269.99 455.10,269.99 455.35,269.99 455.60,269.99 455.85,269.99 456.10,269.99 456.35,269.99 456.60,269.99 456.85,269.99 457.10,269.99 457.35,269.99 457.60,269.99 457.85,269.99 458.10,269.99 458.35,269.99 458.60,269.99 458.85,269.99 459.10,269.99 459.35,269.99 459.60,269.99 459.85,269.99 460.10,269.99 460.35,269.99 460.60,269.98 460.85,269.98 461.10,269.98 461.35,269.98 461.60,269.98 461.85,269.98 462.10,269.98 462.35,269.98 462.60,269.98 462.85,269.98 463.10,269.98 463.35,269.98 463.60,269.98 463.85,269.98 464.10,269.98 464.35,269.98 464.60,269.98 464.85,269.97 465.10,269.97 465.35,269.97 465.60,269.97 465.85,269.97 466.10,269.97 466.35,269.97 466.60,269.97 466.85,269.96 467.10,269.96 467.35,269.96 467.60,269.96 467.85,269.96 468.10,269.95 468.35,269.95 468.60,269.95 468.85,269.95 469.10,269.94 469.35,269.94 469.60,269.94 469.85,269.93 470.10,269.93 470.35,269.92 470.60,269.91 470.85,269.91 471.10,269.90 471.35,269.89 471.60,269.88 471.85,269.87 472.10,269.85 472.35,269.83 472.60,269.81 472.85,269.79 473.10,269.76 473.35,269.73 473.60,269.68 473.85,269.63 474.10,269.56 474.35,269.47 474.60,269.34 474.85,269.15 475.10,268.81 475.35,268.08 475.60,266.44 475.85,263.10 476.10,257.60 476.35,250.79 476.60,245.74 476.85,246.39 477.10,252.14 477.35,258.86 477.60,263.94 477.85,266.88 478.10,268.28 478.35,268.90 478.60,269.19 478.85,269.37 479.10,269.49 479.35,269.57 479.60,269.64 479.85,269.69 480.10,269.73 480.35,269.77 480.60,269.80 480.85,269.82 481.10,269.84 481.35,269.85 481.60,269.87 481.85,269.88 482.10,269.89 482.35,269.90 482.60,269.91 482.85,269.91 483.10,269.92 483.35,269.93 483.60,269.93 483.85,269.93 484.10,269.94 484.35,269.94 484.60,269.95 484.85,269.95 485.10,269.95 485.35,269.95 485.60,269.96 485.85,269.96 486.10,269.96 486.35,269.96 486.60,269.96 486.85,269.96 487.10,269.97 487.35,269.97 487.60,269.97 487.85,269.97 488.10,269.97 488.35,269.97 488.60,269.97 488.85,269.97 489.10,269.97 489.35,269.97 489.60,269.97 489.85,269.97 490.10,269.97 490.35,269.97 490.60,269.97 490.85,269.97 491.10,269.97 491.35,269.97 491.60,269.97 491.85,269.97 492.10,269.97 492.35,269.97 492.60,269.97 492.85,269.97 493.10,269.97 493.35,269.96 493.60,269.96 493.85,269.96 494.10,269.96 494.35,269.95 494.60,269.94 494.85,269.93 495.10,269.91 495.35,269.87 495.60,269.81 495.85,269.72 496.10,269.61 496.35,269.46 496.60,269.29 496.85,269.13 497.10,269.02 497.35,268.99 497.60,269.06 497.85,269.19 498.10,269.36 498.35,269.52 498.60,269.66 498.85,269.76 499.10,269.84 499.35,269.89 499.60,269.92 499.85,269.94 500.10,269.95 500.35,269.96 500.60,269.96 500.85,269.97 501.10,269.97 501.35,269.97 501.60,269.97 501.85,269.98 502.10,269.98 502.35,269.98 502.60,269.98 502.85,269.98 503.10,269.98 503.35,269.98 503.60,269.98 503.85,269.98 504.10,269.98 504.35,269.99 504.60,269.99 504.85,269.99 505.10,269.99 505.35,269.99 505.60,269.99 505.85,269.99 506.10,269.99 506.35,269.99 506.60,269.99 506.85,269.99 507.10,269.99 507.35,269.99 507.60,269.99 507.85,269.99 508.10,269.99 508.35,269.99 508.60,269.99 508.85,269.99 509.10,269.99 509.35,269.99 509.60,269.99 509.85,269.99 510.10,269.99 510.35,269.99 510.60,269.99 510.85,269.99 511.10,269.99 511.35,269.99 511.60,269.99 511.85,269.99 512.10,269.99 512.35,269.99 512.60,269.99 512.85,269.99 513.10,269.99 513.35,269.99 513.60,269.99 513.85,269.99 514.10,269.99 514.35,269.99 514.60,269.99 514.85,269.99 515.10,269.99 515.35,269.99 515.60,269.99 515.85,269.99 516.10,269.99 516.35,269.99 516.60,269.99 516.85,269.99 517.10,269.99 517.35,269.99 517.60,269.99 517.85,269.99 518.10,269.99 518.35,269.99 518.60,269.99 518.85,269.99 519.10,269.99 519.35,269.99 519.60,269.99 519.85,269.99 520.10,269.99 520.35,269.99 520.60,269.99 520.85,269.99 521.10,269.99 521.35,269.99 521.60,269.99 521.85,269.99 522.10,269.99 522.35,269.99 522.60,269.99 522.85,269.99 523.10,269.99 523.35,269.99 523.60,269.99 523.85,269.99 524.10,269.99 524.35,269.99 524.60,269.99 524.85,269.98 525.10,269.98 525.35,269.98 525.60,269.98 525.85,269.98 526.10,269.98 526.35,269.98 526.60,269.98 526.85,269.98 527.10,269.98 527.35,269.98 527.60,269.98 527.85,269.98 528.10,269.98 528.35,269.98 528.60,269.98 528.85,269.98 529.10,269.97 529.35,269.97 529.60,269.97 529.85,269.97 530.10,269.97 530.35,269.97 530.60,269.97 530.85,269.96 531.10,269.96 531.35,269.96 531.60,269.96 531.85,269.95 532.10,269.95 532.35,269.94 532.60,269.93 532.85,269.93 533.10,269.91 533.35,269.89 533.60,269.85 533.85,269.75 534.10,269.55 534.35,269.20 534.60,268.73 534.85,268.34 535.10,268.29 535.35,268.63 535.60,269.10 535.85,269.47 536.10,269.70 536.35,269.81 536.60,269.85 536.85,269.87 537.10,269.88 537.35,269.89 537.60,269.89 537.85,269.89 538.10,269.88 538.35,269.88 538.60,269.87 538.85,269.87 539.10,269.86 539.35,269.85 539.60,269.83 539.85,269.82 540.10,269.80 540.35,269.78 540.60,269.75 540.85,269.72 541.10,269.68 541.35,269.63 541.60,269.57 541.85,269.49 542.10,269.38 542.35,269.24 542.60,269.02 542.85,268.62 543.10,267.70 543.35,265.51 543.60,261.05 543.85,254.09 544.10,246.85 544.35,244.45 544.60,249.22 544.85,256.42 545.10,261.63 545.35,263.44 545.60,262.31 545.85,259.64 546.10,257.49 546.35,257.98 546.60,260.88 546.85,264.21 547.10,266.73 547.35,268.21 547.60,268.93 547.85,269.26 548.10,269.43 548.35,269.53 548.60,269.61 548.85,269.66 549.10,269.71 549.35,269.74 549.60,269.77 549.85,269.80 550.10,269.82 550.35,269.84 550.60,269.85 550.85,269.86 551.10,269.88 551.35,269.89 551.60,269.89 551.85,269.90 552.10,269.91 552.35,269.91 552.60,269.92 552.85,269.92 553.10,269.93 553.35,269.93 553.60,269.94 553.85,269.94 554.10,269.94 554.35,269.94 554.60,269.95 554.85,269.95 555.10,269.95 555.35,269.95 555.60,269.95 555.85,269.96 556.10,269.96 556.35,269.96 556.60,269.96 556.85,269.96 557.10,269.96 557.35,269.96 557.60,269.96 557.85,269.96 558.10,269.96 558.35,269.96 558.60,269.96 558.85,269.96 559.10,269.96 559.35,269.96 559.60,269.96 559.85,269.96 560.10,269.96 560.35,269.96 560.60,269.96 560.85,269.96 561.10,269.96 561.35,269.96 561.60,269.95 561.85,269.95 562.10,269.95 562.35,269.94 562.60,269.94 562.85,269.93 563.10,269.92 563.35,269.91 563.60,269.90 563.85,269.88 564.10,269.85 564.35,269.81 564.60,269.74 564.85,269.57 565.10,269.20 565.35,268.52 565.60,267.50 565.85,266.42 566.10,265.89 566.35,266.32 566.60,267.22 566.85,267.92 567.10,268.15 567.35,268.03 567.60,267.96 567.85,268.26 568.10,268.78 568.35,269.26 568.60,269.58 568.85,269.75 569.10,269.84 569.35,269.88 569.60,269.90 569.85,269.92 570.10,269.93 570.35,269.94 570.60,269.94 570.85,269.95 571.10,269.96 571.35,269.96 571.60,269.96 571.85,269.97 572.10,269.97 572.35,269.97 572.60,269.97 572.85,269.97 573.10,269.98 573.35,269.98 573.60,269.98 573.85,269.98 574.10,269.98 574.35,269.98 574.60,269.98 574.85,269.98 575.10,269.98 575.35,269.99 575.60,269.99 575.85,269.99 576.10,269.99 576.35,269.99 576.60,269.99 576.85,269.99 577.10,269.99 577.35,269.99 577.60,269.99 577.85,269.99 578.10,269.99 578.35,269.99 578.60,269.99 578.85,269.99 579.10,269.99 579.35,269.99 579.60,269.99 579.85,269.99 580.10,269.99 580.35,269.99 580.60,269.99 580.85,269.99 581.10,269.99 581.35,269.99 581.60,269.99 581.85,269.99 582.10,269.99 582.35,269.99 582.60,269.99 582.85,269.99" fill="none" stroke="#fb0a10" stroke-width="1.15" stroke-linejoin="round" clip-path="url(#cclip)"/>
<polyline points="196.10,332.00 196.35,332.00 196.60,332.00 196.85,332.00 197.10,332.00 197.35,332.00 197.60,332.00 197.85,332.00 198.10,332.00 198.35,332.00 198.60,332.00 198.85,332.00 199.10,332.00 199.35,332.00 199.60,332.00 199.85,332.00 200.10,332.00 200.35,332.00 200.60,332.00 200.85,332.00 201.10,332.00 201.35,332.00 201.60,332.00 201.85,332.00 202.10,332.00 202.35,332.00 202.60,332.00 202.85,332.00 203.10,332.00 203.35,332.00 203.60,332.00 203.85,332.00 204.10,332.00 204.35,332.00 204.60,332.00 204.85,332.00 205.10,332.00 205.35,332.00 205.60,332.00 205.85,332.00 206.10,332.00 206.35,332.00 206.60,332.00 206.85,332.00 207.10,332.00 207.35,332.00 207.60,332.00 207.85,332.00 208.10,332.00 208.35,332.00 208.60,332.00 208.85,332.00 209.10,332.00 209.35,332.00 209.60,332.00 209.85,332.00 210.10,332.00 210.35,332.00 210.60,332.00 210.85,332.00 211.10,332.00 211.35,332.00 211.60,332.00 211.85,332.00 212.10,332.00 212.35,332.00 212.60,332.00 212.85,332.00 213.10,332.00 213.35,332.00 213.60,332.00 213.85,332.00 214.10,332.00 214.35,332.00 214.60,332.00 214.85,332.00 215.10,332.00 215.35,332.00 215.60,332.00 215.85,332.00 216.10,332.00 216.35,332.00 216.60,332.00 216.85,332.00 217.10,332.00 217.35,332.00 217.60,332.00 217.85,332.00 218.10,332.00 218.35,332.00 218.60,332.00 218.85,332.00 219.10,332.00 219.35,332.00 219.60,332.00 219.85,332.00 220.10,332.00 220.35,332.00 220.60,332.00 220.85,332.00 221.10,332.00 221.35,332.00 221.60,332.00 221.85,332.00 222.10,332.00 222.35,332.00 222.60,332.00 222.85,332.00 223.10,332.00 223.35,332.00 223.60,332.00 223.85,332.00 224.10,332.00 224.35,332.00 224.60,332.00 224.85,332.00 225.10,332.00 225.35,332.00 225.60,332.00 225.85,332.00 226.10,332.00 226.35,332.00 226.60,332.00 226.85,332.00 227.10,332.00 227.35,332.00 227.60,332.00 227.85,332.00 228.10,332.00 228.35,332.00 228.60,332.00 228.85,332.00 229.10,332.00 229.35,332.00 229.60,332.00 229.85,332.00 230.10,332.00 230.35,332.00 230.60,332.00 230.85,332.00 231.10,332.00 231.35,332.00 231.60,332.00 231.85,332.00 232.10,332.00 232.35,332.00 232.60,332.00 232.85,332.00 233.10,332.00 233.35,332.00 233.60,332.00 233.85,332.00 234.10,332.00 234.35,332.00 234.60,332.00 234.85,332.00 235.10,332.00 235.35,332.00 235.60,332.00 235.85,332.00 236.10,332.00 236.35,332.00 236.60,332.00 236.85,332.00 237.10,332.00 237.35,332.00 237.60,332.00 237.85,332.00 238.10,332.00 238.35,332.00 238.60,332.00 238.85,332.00 239.10,332.00 239.35,332.00 239.60,332.00 239.85,332.00 240.10,332.00 240.35,332.00 240.60,332.00 240.85,332.00 241.10,332.00 241.35,332.00 241.60,332.00 241.85,332.00 242.10,332.00 242.35,332.00 242.60,332.00 242.85,332.00 243.10,332.00 243.35,332.00 243.60,332.00 243.85,332.00 244.10,332.00 244.35,332.00 244.60,332.00 244.85,332.00 245.10,332.00 245.35,332.00 245.60,332.00 245.85,332.00 246.10,332.00 246.35,332.00 246.60,332.00 246.85,332.00 247.10,332.00 247.35,332.00 247.60,332.00 247.85,332.00 248.10,332.00 248.35,332.00 248.60,332.00 248.85,332.00 249.10,332.00 249.35,332.00 249.60,332.00 249.85,332.00 250.10,332.00 250.35,332.00 250.60,332.00 250.85,332.00 251.10,332.00 251.35,332.00 251.60,332.00 251.85,332.00 252.10,332.00 252.35,332.00 252.60,332.00 252.85,332.00 253.10,332.00 253.35,332.00 253.60,332.00 253.85,332.00 254.10,332.00 254.35,332.00 254.60,332.00 254.85,332.00 255.10,332.00 255.35,332.00 255.60,332.00 255.85,332.00 256.10,332.00 256.35,332.00 256.60,332.00 256.85,332.00 257.10,332.00 257.35,332.00 257.60,332.00 257.85,332.00 258.10,332.00 258.35,332.00 258.60,332.00 258.85,332.00 259.10,332.00 259.35,332.00 259.60,332.00 259.85,332.00 260.10,332.00 260.35,332.00 260.60,332.00 260.85,332.00 261.10,332.00 261.35,332.00 261.60,332.00 261.85,332.00 262.10,332.00 262.35,332.00 262.60,332.00 262.85,332.00 263.10,332.00 263.35,332.00 263.60,332.00 263.85,332.00 264.10,332.00 264.35,332.00 264.60,332.00 264.85,332.00 265.10,332.00 265.35,332.00 265.60,332.00 265.85,332.00 266.10,332.00 266.35,332.00 266.60,332.00 266.85,332.00 267.10,332.00 267.35,332.00 267.60,332.00 267.85,332.00 268.10,332.00 268.35,332.00 268.60,332.00 268.85,332.00 269.10,332.00 269.35,332.00 269.60,332.00 269.85,332.00 270.10,332.00 270.35,332.00 270.60,332.00 270.85,332.00 271.10,332.00 271.35,332.00 271.60,332.00 271.85,332.00 272.10,332.00 272.35,332.00 272.60,332.00 272.85,332.00 273.10,332.00 273.35,332.00 273.60,332.00 273.85,332.00 274.10,332.00 274.35,332.00 274.60,332.00 274.85,332.00 275.10,332.00 275.35,332.00 275.60,332.00 275.85,332.00 276.10,332.00 276.35,332.00 276.60,332.00 276.85,332.00 277.10,332.00 277.35,332.00 277.60,331.99 277.85,331.99 278.10,331.99 278.35,331.99 278.60,331.99 278.85,331.99 279.10,331.99 279.35,331.99 279.60,331.99 279.85,331.99 280.10,331.99 280.35,331.99 280.60,331.99 280.85,331.99 281.10,331.99 281.35,331.99 281.60,331.99 281.85,331.99 282.10,331.99 282.35,331.99 282.60,331.99 282.85,331.99 283.10,331.99 283.35,331.99 283.60,331.99 283.85,331.98 284.10,331.98 284.35,331.98 284.60,331.98 284.85,331.98 285.10,331.98 285.35,331.98 285.60,331.97 285.85,331.97 286.10,331.97 286.35,331.97 286.60,331.96 286.85,331.96 287.10,331.95 287.35,331.94 287.60,331.93 287.85,331.92 288.10,331.90 288.35,331.86 288.60,331.80 288.85,331.70 289.10,331.56 289.35,331.36 289.60,331.10 289.85,330.80 290.10,330.51 290.35,330.28 290.60,330.20 290.85,330.28 291.10,330.51 291.35,330.80 291.60,331.10 291.85,331.36 292.10,331.56 292.35,331.70 292.60,331.80 292.85,331.86 293.10,331.90 293.35,331.92 293.60,331.93 293.85,331.94 294.10,331.95 294.35,331.96 294.60,331.96 294.85,331.96 295.10,331.97 295.35,331.97 295.60,331.97 295.85,331.98 296.10,331.98 296.35,331.98 296.60,331.98 296.85,331.98 297.10,331.98 297.35,331.98 297.60,331.98 297.85,331.99 298.10,331.99 298.35,331.99 298.60,331.99 298.85,331.99 299.10,331.99 299.35,331.99 299.60,331.99 299.85,331.99 300.10,331.99 300.35,331.99 300.60,331.99 300.85,331.99 301.10,331.99 301.35,331.99 301.60,331.99 301.85,331.99 302.10,331.99 302.35,331.99 302.60,331.99 302.85,331.99 303.10,331.99 303.35,331.99 303.60,331.99 303.85,331.99 304.10,331.99 304.35,331.99 304.60,331.99 304.85,331.99 305.10,331.99 305.35,331.99 305.60,331.99 305.85,331.99 306.10,331.99 306.35,331.99 306.60,331.99 306.85,331.99 307.10,331.99 307.35,331.99 307.60,331.99 307.85,331.99 308.10,331.99 308.35,331.99 308.60,331.99 308.85,331.99 309.10,331.99 309.35,331.99 309.60,331.99 309.85,331.99 310.10,331.99 310.35,331.99 310.60,331.99 310.85,331.99 311.10,331.99 311.35,331.99 311.60,331.99 311.85,331.99 312.10,331.99 312.35,331.99 312.60,331.99 312.85,331.99 313.10,331.99 313.35,331.99 313.60,331.99 313.85,331.99 314.10,331.99 314.35,331.99 314.60,331.99 314.85,331.99 315.10,331.99 315.35,331.99 315.60,331.99 315.85,331.99 316.10,331.99 316.35,331.99 316.60,331.99 316.85,331.99 317.10,331.99 317.35,331.99 317.60,331.99 317.85,331.99 318.10,331.99 318.35,331.99 318.60,331.99 318.85,331.99 319.10,331.99 319.35,331.99 319.60,331.99 319.85,331.99 320.10,331.99 320.35,331.99 320.60,331.99 320.85,331.99 321.10,331.99 321.35,331.99 321.60,331.99 321.85,331.99 322.10,331.99 322.35,331.99 322.60,331.99 322.85,331.99 323.10,331.99 323.35,331.99 323.60,331.99 323.85,331.99 324.10,331.99 324.35,331.99 324.60,331.99 324.85,331.99 325.10,331.99 325.35,331.99 325.60,331.99 325.85,331.99 326.10,331.99 326.35,331.99 326.60,331.99 326.85,331.99 327.10,331.99 327.35,331.98 327.60,331.98 327.85,331.98 328.10,331.98 328.35,331.98 328.60,331.98 328.85,331.98 329.10,331.98 329.35,331.98 329.60,331.98 329.85,331.98 330.10,331.98 330.35,331.98 330.60,331.98 330.85,331.98 331.10,331.98 331.35,331.97 331.60,331.97 331.85,331.97 332.10,331.97 332.35,331.97 332.60,331.97 332.85,331.97 333.10,331.97 333.35,331.96 333.60,331.96 333.85,331.96 334.10,331.96 334.35,331.96 334.60,331.95 334.85,331.95 335.10,331.95 335.35,331.94 335.60,331.94 335.85,331.94 336.10,331.93 336.35,331.93 336.60,331.92 336.85,331.92 337.10,331.91 337.35,331.90 337.60,331.89 337.85,331.88 338.10,331.87 338.35,331.85 338.60,331.83 338.85,331.81 339.10,331.79 339.35,331.75 339.60,331.72 339.85,331.67 340.10,331.60 340.35,331.52 340.60,331.41 340.85,331.25 341.10,330.98 341.35,330.43 341.60,329.11 341.85,326.06 342.10,320.39 342.35,312.68 342.60,306.57 342.85,307.38 343.10,314.26 343.35,321.74 343.60,326.86 343.85,329.47 344.10,330.58 344.35,331.05 344.60,331.28 344.85,331.43 345.10,331.54 345.35,331.61 345.60,331.67 345.85,331.72 346.10,331.76 346.35,331.79 346.60,331.81 346.85,331.83 347.10,331.85 347.35,331.87 347.60,331.88 347.85,331.89 348.10,331.90 348.35,331.90 348.60,331.91 348.85,331.92 349.10,331.92 349.35,331.93 349.60,331.93 349.85,331.94 350.10,331.94 350.35,331.94 350.60,331.94 350.85,331.95 351.10,331.95 351.35,331.95 351.60,331.95 351.85,331.95 352.10,331.96 352.35,331.96 352.60,331.96 352.85,331.96 353.10,331.96 353.35,331.96 353.60,331.96 353.85,331.96 354.10,331.96 354.35,331.96 354.60,331.96 354.85,331.96 355.10,331.97 355.35,331.97 355.60,331.97 355.85,331.97 356.10,331.97 356.35,331.97 356.60,331.97 356.85,331.97 357.10,331.97 357.35,331.97 357.60,331.97 357.85,331.97 358.10,331.97 358.35,331.96 358.60,331.96 358.85,331.96 359.10,331.96 359.35,331.96 359.60,331.96 359.85,331.96 360.10,331.96 360.35,331.96 360.60,331.96 360.85,331.96 361.10,331.96 361.35,331.96 361.60,331.96 361.85,331.95 362.10,331.95 362.35,331.95 362.60,331.95 362.85,331.95 363.10,331.95 363.35,331.95 363.60,331.94 363.85,331.94 364.10,331.94 364.35,331.94 364.60,331.93 364.85,331.93 365.10,331.93 365.35,331.92 365.60,331.92 365.85,331.92 366.10,331.91 366.35,331.91 366.60,331.90 366.85,331.90 367.10,331.89 367.35,331.88 367.60,331.87 367.85,331.87 368.10,331.86 368.35,331.85 368.60,331.83 368.85,331.82 369.10,331.81 369.35,331.79 369.60,331.77 369.85,331.74 370.10,331.72 370.35,331.69 370.60,331.65 370.85,331.60 371.10,331.55 371.35,331.49 371.60,331.41 371.85,331.31 372.10,331.18 372.35,331.02 372.60,330.79 372.85,330.48 373.10,329.96 373.35,328.91 373.60,326.53 373.85,321.41 374.10,312.17 374.35,299.18 374.60,286.70 374.85,282.87 375.10,291.16 375.35,304.66 375.60,316.40 375.85,323.89 376.10,327.72 376.35,329.43 376.60,330.20 376.85,330.62 377.10,330.89 377.35,331.09 377.60,331.23 377.85,331.35 378.10,331.44 378.35,331.51 378.60,331.57 378.85,331.62 379.10,331.66 379.35,331.70 379.60,331.73 379.85,331.75 380.10,331.77 380.35,331.79 380.60,331.81 380.85,331.82 381.10,331.83 381.35,331.84 381.60,331.85 381.85,331.86 382.10,331.87 382.35,331.88 382.60,331.88 382.85,331.89 383.10,331.89 383.35,331.89 383.60,331.90 383.85,331.90 384.10,331.90 384.35,331.90 384.60,331.90 384.85,331.89 385.10,331.89 385.35,331.88 385.60,331.86 385.85,331.82 386.10,331.77 386.35,331.68 386.60,331.56 386.85,331.39 387.10,331.20 387.35,331.00 387.60,330.84 387.85,330.76 388.10,330.80 388.35,330.94 388.60,331.13 388.85,331.33 389.10,331.51 389.35,331.65 389.60,331.76 389.85,331.83 390.10,331.87 390.35,331.90 390.60,331.92 390.85,331.93 391.10,331.94 391.35,331.94 391.60,331.95 391.85,331.95 392.10,331.96 392.35,331.96 392.60,331.96 392.85,331.96 393.10,331.96 393.35,331.97 393.60,331.97 393.85,331.97 394.10,331.97 394.35,331.97 394.60,331.97 394.85,331.97 395.10,331.98 395.35,331.98 395.60,331.98 395.85,331.98 396.10,331.98 396.35,331.98 396.60,331.98 396.85,331.98 397.10,331.98 397.35,331.98 397.60,331.98 397.85,331.98 398.10,331.98 398.35,331.98 398.60,331.98 398.85,331.98 399.10,331.98 399.35,331.99 399.60,331.99 399.85,331.99 400.10,331.99 400.35,331.99 400.60,331.99 400.85,331.99 401.10,331.99 401.35,331.99 401.60,331.99 401.85,331.99 402.10,331.99 402.35,331.99 402.60,331.99 402.85,331.99 403.10,331.99 403.35,331.99 403.60,331.99 403.85,331.99 404.10,331.99 404.35,331.99 404.60,331.99 404.85,331.99 405.10,331.99 405.35,331.99 405.60,331.99 405.85,331.99 406.10,331.99 406.35,331.99 406.60,331.99 406.85,331.99 407.10,331.99 407.35,331.99 407.60,331.99 407.85,331.99 408.10,331.99 408.35,331.99 408.60,331.99 408.85,331.99 409.10,331.99 409.35,331.99 409.60,331.99 409.85,331.99 410.10,331.99 410.35,331.99 410.60,331.99 410.85,331.99 411.10,331.99 411.35,331.99 411.60,331.99 411.85,331.99 412.10,331.99 412.35,331.99 412.60,331.99 412.85,331.99 413.10,331.99 413.35,331.99 413.60,331.99 413.85,331.99 414.10,331.99 414.35,331.99 414.60,331.99 414.85,331.99 415.10,331.99 415.35,331.99 415.60,331.99 415.85,331.99 416.10,331.99 416.35,331.99 416.60,331.99 416.85,331.99 417.10,331.99 417.35,331.99 417.60,331.99 417.85,331.99 418.10,331.99 418.35,331.99 418.60,331.99 418.85,331.99 419.10,331.99 419.35,331.99 419.60,331.99 419.85,331.99 420.10,331.99 420.35,331.99 420.60,331.99 420.85,331.99 421.10,331.99 421.35,331.99 421.60,331.99 421.85,331.99 422.10,331.99 422.35,331.99 422.60,331.99 422.85,331.99 423.10,331.99 423.35,331.99 423.60,331.99 423.85,331.99 424.10,331.99 424.35,331.99 424.60,331.99 424.85,331.99 425.10,331.99 425.35,331.99 425.60,331.99 425.85,331.99 426.10,331.99 426.35,331.99 426.60,331.99 426.85,331.99 427.10,331.99 427.35,331.99 427.60,331.99 427.85,331.99 428.10,331.99 428.35,331.99 428.60,331.99 428.85,331.99 429.10,331.99 429.35,331.99 429.60,331.99 429.85,331.99 430.10,331.99 430.35,331.99 430.60,331.99 430.85,331.98 431.10,331.98 431.35,331.98 431.60,331.98 431.85,331.98 432.10,331.98 432.35,331.97 432.60,331.97 432.85,331.96 433.10,331.95 433.35,331.94 433.60,331.91 433.85,331.87 434.10,331.80 434.35,331.71 434.60,331.60 434.85,331.47 435.10,331.34 435.35,331.24 435.60,331.20 435.85,331.24 436.10,331.34 436.35,331.47 436.60,331.60 436.85,331.71 437.10,331.80 437.35,331.87 437.60,331.91 437.85,331.94 438.10,331.95 438.35,331.96 438.60,331.97 438.85,331.97 439.10,331.98 439.35,331.98 439.60,331.98 439.85,331.98 440.10,331.98 440.35,331.99 440.60,331.99 440.85,331.99 441.10,331.99 441.35,331.99 441.60,331.99 441.85,331.99 442.10,331.99 442.35,331.99 442.60,331.99 442.85,331.99 443.10,331.99 443.35,331.99 443.60,331.99 443.85,331.99 444.10,331.99 444.35,331.99 444.60,331.99 444.85,331.99 445.10,331.99 445.35,331.99 445.60,331.99 445.85,331.99 446.10,331.99 446.35,331.99 446.60,331.99 446.85,331.99 447.10,331.99 447.35,331.99 447.60,332.00 447.85,332.00 448.10,332.00 448.35,332.00 448.60,332.00 448.85,332.00 449.10,332.00 449.35,332.00 449.60,332.00 449.85,332.00 450.10,332.00 450.35,332.00 450.60,332.00 450.85,332.00 451.10,332.00 451.35,332.00 451.60,332.00 451.85,332.00 452.10,332.00 452.35,332.00 452.60,332.00 452.85,332.00 453.10,332.00 453.35,332.00 453.60,332.00 453.85,332.00 454.10,332.00 454.35,332.00 454.60,332.00 454.85,332.00 455.10,332.00 455.35,332.00 455.60,332.00 455.85,332.00 456.10,332.00 456.35,332.00 456.60,332.00 456.85,332.00 457.10,332.00 457.35,332.00 457.60,332.00 457.85,332.00 458.10,332.00 458.35,332.00 458.60,332.00 458.85,332.00 459.10,332.00 459.35,332.00 459.60,331.99 459.85,331.99 460.10,331.99 460.35,331.99 460.60,331.99 460.85,331.99 461.10,331.99 461.35,331.99 461.60,331.99 461.85,331.99 462.10,331.99 462.35,331.99 462.60,331.99 462.85,331.99 463.10,331.99 463.35,331.99 463.60,331.99 463.85,331.99 464.10,331.99 464.35,331.99 464.60,331.99 464.85,331.99 465.10,331.99 465.35,331.99 465.60,331.99 465.85,331.99 466.10,331.99 466.35,331.99 466.60,331.99 466.85,331.99 467.10,331.99 467.35,331.99 467.60,331.99 467.85,331.99 468.10,331.99 468.35,331.99 468.60,331.99 468.85,331.99 469.10,331.99 469.35,331.99 469.60,331.99 469.85,331.99 470.10,331.99 470.35,331.98 470.60,331.98 470.85,331.98 471.10,331.98 471.35,331.98 471.60,331.98 471.85,331.98 472.10,331.98 472.35,331.98 472.60,331.98 472.85,331.97 473.10,331.97 473.35,331.97 473.60,331.97 473.85,331.97 474.10,331.96 474.35,331.96 474.60,331.96 474.85,331.95 475.10,331.95 475.35,331.94 475.60,331.94 475.85,331.93 476.10,331.92 476.35,331.91 476.60,331.90 476.85,331.88 477.10,331.87 477.35,331.84 477.60,331.81 477.85,331.77 478.10,331.72 478.35,331.64 478.60,331.50 478.85,331.19 479.10,330.49 479.35,329.08 479.60,326.75 479.85,323.87 480.10,321.73 480.35,322.00 480.60,324.44 480.85,327.28 481.10,329.43 481.35,330.68 481.60,331.27 481.85,331.53 482.10,331.66 482.35,331.73 482.60,331.78 482.85,331.82 483.10,331.85 483.35,331.87 483.60,331.89 483.85,331.90 484.10,331.91 484.35,331.92 484.60,331.93 484.85,331.94 485.10,331.94 485.35,331.95 485.60,331.95 485.85,331.96 486.10,331.96 486.35,331.96 486.60,331.97 486.85,331.97 487.10,331.97 487.35,331.97 487.60,331.97 487.85,331.98 488.10,331.98 488.35,331.98 488.60,331.98 488.85,331.98 489.10,331.98 489.35,331.98 489.60,331.98 489.85,331.98 490.10,331.99 490.35,331.99 490.60,331.99 490.85,331.99 491.10,331.99 491.35,331.99 491.60,331.99 491.85,331.99 492.10,331.99 492.35,331.99 492.60,331.99 492.85,331.99 493.10,331.99 493.35,331.99 493.60,331.99 493.85,331.99 494.10,331.99 494.35,331.99 494.60,331.99 494.85,331.99 495.10,331.99 495.35,331.99 495.60,331.99 495.85,331.99 496.10,331.99 496.35,331.99 496.60,331.99 496.85,331.99 497.10,331.99 497.35,331.99 497.60,331.99 497.85,331.99 498.10,331.99 498.35,331.99 498.60,331.99 498.85,331.99 499.10,331.99 499.35,331.99 499.60,332.00 499.85,332.00 500.10,332.00 500.35,332.00 500.60,332.00 500.85,332.00 501.10,332.00 501.35,332.00 501.60,332.00 501.85,332.00 502.10,332.00 502.35,332.00 502.60,332.00 502.85,332.00 503.10,332.00 503.35,332.00 503.60,332.00 503.85,332.00 504.10,332.00 504.35,332.00 504.60,332.00 504.85,332.00 505.10,332.00 505.35,332.00 505.60,332.00 505.85,332.00 506.10,332.00 506.35,332.00 506.60,332.00 506.85,332.00 507.10,332.00 507.35,332.00 507.60,332.00 507.85,332.00 508.10,332.00 508.35,332.00 508.60,332.00 508.85,332.00 509.10,332.00 509.35,332.00 509.60,332.00 509.85,332.00 510.10,332.00 510.35,332.00 510.60,332.00 510.85,332.00 511.10,332.00 511.35,332.00 511.60,332.00 511.85,332.00 512.10,332.00 512.35,332.00 512.60,332.00 512.85,332.00 513.10,332.00 513.35,332.00 513.60,332.00 513.85,332.00 514.10,332.00 514.35,332.00 514.60,332.00 514.85,332.00 515.10,332.00 515.35,332.00 515.60,332.00 515.85,332.00 516.10,332.00 516.35,332.00 516.60,332.00 516.85,332.00 517.10,332.00 517.35,332.00 517.60,332.00 517.85,332.00 518.10,332.00 518.35,332.00 518.60,332.00 518.85,332.00 519.10,332.00 519.35,332.00 519.60,332.00 519.85,332.00 520.10,332.00 520.35,332.00 520.60,332.00 520.85,332.00 521.10,332.00 521.35,332.00 521.60,332.00 521.85,332.00 522.10,332.00 522.35,332.00 522.60,332.00 522.85,332.00 523.10,332.00 523.35,332.00 523.60,332.00 523.85,332.00 524.10,332.00 524.35,332.00 524.60,332.00 524.85,332.00 525.10,332.00 525.35,332.00 525.60,332.00 525.85,332.00 526.10,332.00 526.35,332.00 526.60,332.00 526.85,332.00 527.10,331.99 527.35,331.99 527.60,331.99 527.85,331.99 528.10,331.99 528.35,331.99 528.60,331.99 528.85,331.99 529.10,331.99 529.35,331.99 529.60,331.99 529.85,331.99 530.10,331.99 530.35,331.99 530.60,331.99 530.85,331.99 531.10,331.99 531.35,331.99 531.60,331.99 531.85,331.99 532.10,331.99 532.35,331.99 532.60,331.99 532.85,331.99 533.10,331.99 533.35,331.99 533.60,331.99 533.85,331.99 534.10,331.99 534.35,331.99 534.60,331.99 534.85,331.99 535.10,331.99 535.35,331.99 535.60,331.99 535.85,331.99 536.10,331.99 536.35,331.99 536.60,331.99 536.85,331.99 537.10,331.99 537.35,331.98 537.60,331.98 537.85,331.98 538.10,331.98 538.35,331.98 538.60,331.98 538.85,331.98 539.10,331.98 539.35,331.98 539.60,331.98 539.85,331.97 540.10,331.97 540.35,331.97 540.60,331.97 540.85,331.97 541.10,331.97 541.35,331.96 541.60,331.96 541.85,331.96 542.10,331.95 542.35,331.95 542.60,331.95 542.85,331.94 543.10,331.94 543.35,331.93 543.60,331.92 543.85,331.91 544.10,331.90 544.35,331.89 544.60,331.87 544.85,331.86 545.10,331.83 545.35,331.80 545.60,331.76 545.85,331.71 546.10,331.63 546.35,331.48 546.60,331.18 546.85,330.56 547.10,329.39 547.35,327.57 547.60,325.34 547.85,323.52 548.10,323.26 548.35,324.67 548.60,326.57 548.85,327.90 549.10,328.30 549.35,328.08 549.60,327.98 549.85,328.58 550.10,329.60 550.35,330.53 550.60,331.16 550.85,331.51 551.10,331.67 551.35,331.75 551.60,331.80 551.85,331.83 552.10,331.86 552.35,331.88 552.60,331.89 552.85,331.90 553.10,331.91 553.35,331.92 553.60,331.93 553.85,331.94 554.10,331.94 554.35,331.95 554.60,331.95 554.85,331.95 555.10,331.96 555.35,331.96 555.60,331.96 555.85,331.97 556.10,331.97 556.35,331.97 556.60,331.97 556.85,331.97 557.10,331.97 557.35,331.97 557.60,331.98 557.85,331.98 558.10,331.98 558.35,331.98 558.60,331.98 558.85,331.98 559.10,331.98 559.35,331.98 559.60,331.98 559.85,331.98 560.10,331.98 560.35,331.98 560.60,331.98 560.85,331.98 561.10,331.98 561.35,331.98 561.60,331.98 561.85,331.98 562.10,331.98 562.35,331.98 562.60,331.98 562.85,331.98 563.10,331.98 563.35,331.98 563.60,331.98 563.85,331.98 564.10,331.98 564.35,331.98 564.60,331.98 564.85,331.97 565.10,331.97 565.35,331.97 565.60,331.97 565.85,331.96 566.10,331.96 566.35,331.95 566.60,331.95 566.85,331.94 567.10,331.92 567.35,331.89 567.60,331.84 567.85,331.75 568.10,331.62 568.35,331.43 568.60,331.20 568.85,330.94 569.10,330.71 569.35,330.60 569.60,330.65 569.85,330.84 570.10,331.09 570.35,331.34 570.60,331.55 570.85,331.71 571.10,331.81 571.35,331.88 571.60,331.91 571.85,331.93 572.10,331.95 572.35,331.95 572.60,331.96 572.85,331.97 573.10,331.97 573.35,331.97 573.60,331.98 573.85,331.98 574.10,331.98 574.35,331.98 574.60,331.98 574.85,331.98 575.10,331.99 575.35,331.99 575.60,331.99 575.85,331.99 576.10,331.99 576.35,331.99 576.60,331.99 576.85,331.99 577.10,331.99 577.35,331.99 577.60,331.99 577.85,331.99 578.10,331.99 578.35,331.99 578.60,331.99 578.85,331.99 579.10,331.99 579.35,331.99 579.60,331.99 579.85,331.99 580.10,331.99 580.35,331.99 580.60,331.99 580.85,331.99 581.10,332.00 581.35,332.00 581.60,332.00 581.85,332.00 582.10,332.00 582.35,332.00 582.60,332.00 582.85,332.00" fill="none" stroke="#0808f8" stroke-width="1.15" stroke-linejoin="round" clip-path="url(#cclip)"/>
<polyline points="196.10,395.40 196.35,395.41 196.60,395.43 196.85,395.44 197.10,395.45 197.35,395.47 197.60,395.48 197.85,395.49 198.10,395.50 198.35,395.52 198.60,395.53 198.85,395.54 199.10,395.55 199.35,395.56 199.60,395.58 199.85,395.59 200.10,395.60 200.35,395.61 200.60,395.62 200.85,395.63 201.10,395.64 201.35,395.65 201.60,395.66 201.85,395.67 202.10,395.68 202.35,395.69 202.60,395.70 202.85,395.71 203.10,395.72 203.35,395.73 203.60,395.74 203.85,395.75 204.10,395.76 204.35,395.77 204.60,395.77 204.85,395.78 205.10,395.79 205.35,395.80 205.60,395.81 205.85,395.82 206.10,395.82 206.35,395.83 206.60,395.84 206.85,395.85 207.10,395.86 207.35,395.86 207.60,395.87 207.85,395.88 208.10,395.88 208.35,395.89 208.60,395.90 208.85,395.91 209.10,395.91 209.35,395.92 209.60,395.93 209.85,395.93 210.10,395.94 210.35,395.94 210.60,395.95 210.85,395.96 211.10,395.96 211.35,395.97 211.60,395.98 211.85,395.98 212.10,395.99 212.35,395.99 212.60,396.00 212.85,396.00 213.10,396.01 213.35,396.01 213.60,396.02 213.85,396.02 214.10,396.03 214.35,396.04 214.60,396.04 214.85,396.05 215.10,396.05 215.35,396.05 215.60,396.06 215.85,396.06 216.10,396.07 216.35,396.07 216.60,396.08 216.85,396.08 217.10,396.09 217.35,396.09 217.60,396.09 217.85,396.10 218.10,396.10 218.35,396.11 218.60,396.11 218.85,396.12 219.10,396.12 219.35,396.12 219.60,396.13 219.85,396.13 220.10,396.13 220.35,396.14 220.60,396.14 220.85,396.14 221.10,396.15 221.35,396.15 221.60,396.16 221.85,396.16 222.10,396.16 222.35,396.16 222.60,396.17 222.85,396.17 223.10,396.17 223.35,396.18 223.60,396.18 223.85,396.18 224.10,396.19 224.35,396.19 224.60,396.19 224.85,396.20 225.10,396.20 225.35,396.20 225.60,396.20 225.85,396.21 226.10,396.21 226.35,396.21 226.60,396.21 226.85,396.22 227.10,396.22 227.35,396.22 227.60,396.22 227.85,396.23 228.10,396.23 228.35,396.23 228.60,396.23 228.85,396.24 229.10,396.24 229.35,396.24 229.60,396.24 229.85,396.24 230.10,396.25 230.35,396.25 230.60,396.25 230.85,396.25 231.10,396.25 231.35,396.26 231.60,396.26 231.85,396.26 232.10,396.26 232.35,396.26 232.60,396.27 232.85,396.27 233.10,396.27 233.35,396.27 233.60,396.27 233.85,396.27 234.10,396.28 234.35,396.28 234.60,396.28 234.85,396.28 235.10,396.28 235.35,396.28 235.60,396.29 235.85,396.29 236.10,396.29 236.35,396.29 236.60,396.29 236.85,396.29 237.10,396.29 237.35,396.30 237.60,396.30 237.85,396.30 238.10,396.30 238.35,396.30 238.60,396.30 238.85,396.30 239.10,396.30 239.35,396.31 239.60,396.31 239.85,396.31 240.10,396.31 240.35,396.31 240.60,396.31 240.85,396.31 241.10,396.31 241.35,396.32 241.60,396.32 241.85,396.32 242.10,396.32 242.35,396.32 242.60,396.32 242.85,396.32 243.10,396.32 243.35,396.32 243.60,396.32 243.85,396.33 244.10,396.33 244.35,396.33 244.60,396.33 244.85,396.33 245.10,396.33 245.35,396.33 245.60,396.33 245.85,396.33 246.10,396.33 246.35,396.33 246.60,396.34 246.85,396.34 247.10,396.34 247.35,396.34 247.60,396.34 247.85,396.34 248.10,396.34 248.35,396.34 248.60,396.34 248.85,396.34 249.10,396.34 249.35,396.34 249.60,396.34 249.85,396.35 250.10,396.35 250.35,396.35 250.60,396.35 250.85,396.35 251.10,396.35 251.35,396.35 251.60,396.35 251.85,396.35 252.10,396.35 252.35,396.35 252.60,396.35 252.85,396.35 253.10,396.35 253.35,396.35 253.60,396.35 253.85,396.35 254.10,396.36 254.35,396.36 254.60,396.36 254.85,396.36 255.10,396.36 255.35,396.36 255.60,396.36 255.85,396.36 256.10,396.36 256.35,396.36 256.60,396.36 256.85,396.36 257.10,396.36 257.35,396.36 257.60,396.36 257.85,396.36 258.10,396.36 258.35,396.36 258.60,396.36 258.85,396.36 259.10,396.36 259.35,396.36 259.60,396.36 259.85,396.37 260.10,396.37 260.35,396.37 260.60,396.37 260.85,396.37 261.10,396.37 261.35,396.37 261.60,396.37 261.85,396.37 262.10,396.37 262.35,396.37 262.60,396.37 262.85,396.37 263.10,396.37 263.35,396.37 263.60,396.37 263.85,396.37 264.10,396.37 264.35,396.37 264.60,396.37 264.85,396.37 265.10,396.37 265.35,396.37 265.60,396.37 265.85,396.37 266.10,396.37 266.35,396.37 266.60,396.37 266.85,396.37 267.10,396.37 267.35,396.37 267.60,396.37 267.85,396.37 268.10,396.37 268.35,396.37 268.60,396.37 268.85,396.37 269.10,396.37 269.35,396.37 269.60,396.37 269.85,396.37 270.10,396.37 270.35,396.37 270.60,396.37 270.85,396.37 271.10,396.37 271.35,396.37 271.60,396.37 271.85,396.37 272.10,396.37 272.35,396.37 272.60,396.37 272.85,396.37 273.10,396.37 273.35,396.37 273.60,396.37 273.85,396.37 274.10,396.37 274.35,396.37 274.60,396.37 274.85,396.37 275.10,396.37 275.35,396.37 275.60,396.37 275.85,396.37 276.10,396.37 276.35,396.37 276.60,396.37 276.85,396.37 277.10,396.37 277.35,396.37 277.60,396.37 277.85,396.37 278.10,396.37 278.35,396.37 278.60,396.37 278.85,396.37 279.10,396.37 279.35,396.37 279.60,396.37 279.85,396.37 280.10,396.37 280.35,396.37 280.60,396.37 280.85,396.36 281.10,396.36 281.35,396.36 281.60,396.36 281.85,396.36 282.10,396.36 282.35,396.36 282.60,396.35 282.85,396.35 283.10,396.35 283.35,396.35 283.60,396.35 283.85,396.34 284.10,396.34 284.35,396.33 284.60,396.33 284.85,396.32 285.10,396.32 285.35,396.31 285.60,396.30 285.85,396.29 286.10,396.28 286.35,396.27 286.60,396.24 286.85,396.21 287.10,396.16 287.35,396.09 287.60,395.98 287.85,395.82 288.10,395.60 288.35,395.31 288.60,394.95 288.85,394.53 289.10,394.08 289.35,393.66 289.60,393.34 289.85,393.19 290.10,393.25 290.35,393.52 290.60,393.91 290.85,394.35 291.10,394.78 291.35,395.17 291.60,395.49 291.85,395.74 292.10,395.93 292.35,396.05 292.60,396.14 292.85,396.19 293.10,396.23 293.35,396.26 293.60,396.28 293.85,396.29 294.10,396.30 294.35,396.31 294.60,396.32 294.85,396.32 295.10,396.33 295.35,396.33 295.60,396.34 295.85,396.34 296.10,396.34 296.35,396.35 296.60,396.35 296.85,396.35 297.10,396.35 297.35,396.36 297.60,396.36 297.85,396.36 298.10,396.36 298.35,396.36 298.60,396.36 298.85,396.36 299.10,396.36 299.35,396.36 299.60,396.37 299.85,396.37 300.10,396.37 300.35,396.37 300.60,396.37 300.85,396.37 301.10,396.37 301.35,396.37 301.60,396.37 301.85,396.37 302.10,396.37 302.35,396.37 302.60,396.37 302.85,396.37 303.10,396.37 303.35,396.37 303.60,396.37 303.85,396.37 304.10,396.37 304.35,396.37 304.60,396.37 304.85,396.37 305.10,396.37 305.35,396.37 305.60,396.37 305.85,396.37 306.10,396.37 306.35,396.37 306.60,396.37 306.85,396.37 307.10,396.37 307.35,396.37 307.60,396.37 307.85,396.37 308.10,396.37 308.35,396.37 308.60,396.37 308.85,396.37 309.10,396.37 309.35,396.37 309.60,396.37 309.85,396.37 310.10,396.37 310.35,396.37 310.60,396.37 310.85,396.37 311.10,396.37 311.35,396.37 311.60,396.37 311.85,396.37 312.10,396.37 312.35,396.37 312.60,396.37 312.85,396.36 313.10,396.36 313.35,396.36 313.60,396.36 313.85,396.36 314.10,396.36 314.35,396.36 314.60,396.36 314.85,396.36 315.10,396.36 315.35,396.36 315.60,396.36 315.85,396.36 316.10,396.35 316.35,396.35 316.60,396.35 316.85,396.35 317.10,396.35 317.35,396.35 317.60,396.34 317.85,396.34 318.10,396.34 318.35,396.33 318.60,396.32 318.85,396.31 319.10,396.29 319.35,396.26 319.60,396.21 319.85,396.14 320.10,396.07 320.35,395.98 320.60,395.90 320.85,395.85 321.10,395.85 321.35,395.89 321.60,395.96 321.85,396.04 322.10,396.12 322.35,396.18 322.60,396.23 322.85,396.26 323.10,396.29 323.35,396.30 323.60,396.30 323.85,396.31 324.10,396.31 324.35,396.31 324.60,396.31 324.85,396.31 325.10,396.31 325.35,396.31 325.60,396.30 325.85,396.30 326.10,396.30 326.35,396.30 326.60,396.30 326.85,396.29 327.10,396.29 327.35,396.29 327.60,396.28 327.85,396.28 328.10,396.28 328.35,396.27 328.60,396.27 328.85,396.26 329.10,396.26 329.35,396.25 329.60,396.25 329.85,396.24 330.10,396.23 330.35,396.23 330.60,396.22 330.85,396.21 331.10,396.20 331.35,396.19 331.60,396.18 331.85,396.17 332.10,396.16 332.35,396.15 332.60,396.13 332.85,396.12 333.10,396.10 333.35,396.08 333.60,396.06 333.85,396.04 334.10,396.02 334.35,395.99 334.60,395.96 334.85,395.93 335.10,395.89 335.35,395.85 335.60,395.81 335.85,395.76 336.10,395.70 336.35,395.63 336.60,395.55 336.85,395.46 337.10,395.36 337.35,395.23 337.60,395.08 337.85,394.90 338.10,394.65 338.35,394.30 338.60,393.79 338.85,393.00 339.10,391.75 339.35,389.82 339.60,386.94 339.85,382.88 340.10,377.53 340.35,371.01 340.60,363.78 340.85,356.71 341.10,351.12 341.35,348.47 341.60,349.63 341.85,354.21 342.10,360.86 342.35,368.16 342.60,375.04 342.85,380.89 343.10,385.47 343.35,388.80 343.60,391.08 343.85,392.57 344.10,393.52 344.35,394.12 344.60,394.52 344.85,394.80 345.10,395.01 345.35,395.17 345.60,395.31 345.85,395.42 346.10,395.51 346.35,395.59 346.60,395.67 346.85,395.73 347.10,395.78 347.35,395.83 347.60,395.87 347.85,395.91 348.10,395.94 348.35,395.97 348.60,396.00 348.85,396.02 349.10,396.05 349.35,396.07 349.60,396.08 349.85,396.10 350.10,396.12 350.35,396.13 350.60,396.14 350.85,396.15 351.10,396.17 351.35,396.18 351.60,396.18 351.85,396.19 352.10,396.20 352.35,396.21 352.60,396.22 352.85,396.22 353.10,396.23 353.35,396.23 353.60,396.24 353.85,396.24 354.10,396.25 354.35,396.25 354.60,396.26 354.85,396.26 355.10,396.26 355.35,396.27 355.60,396.27 355.85,396.27 356.10,396.27 356.35,396.27 356.60,396.28 356.85,396.28 357.10,396.28 357.35,396.28 357.60,396.28 357.85,396.28 358.10,396.28 358.35,396.29 358.60,396.29 358.85,396.29 359.10,396.29 359.35,396.29 359.60,396.29 359.85,396.29 360.10,396.29 360.35,396.29 360.60,396.29 360.85,396.28 361.10,396.28 361.35,396.28 361.60,396.28 361.85,396.28 362.10,396.28 362.35,396.28 362.60,396.27 362.85,396.27 363.10,396.27 363.35,396.26 363.60,396.26 363.85,396.26 364.10,396.25 364.35,396.25 364.60,396.24 364.85,396.24 365.10,396.23 365.35,396.22 365.60,396.21 365.85,396.20 366.10,396.19 366.35,396.18 366.60,396.17 366.85,396.16 367.10,396.14 367.35,396.13 367.60,396.11 367.85,396.08 368.10,396.06 368.35,396.03 368.60,396.00 368.85,395.96 369.10,395.92 369.35,395.87 369.60,395.81 369.85,395.73 370.10,395.64 370.35,395.51 370.60,395.34 370.85,395.07 371.10,394.66 371.35,394.01 371.60,393.01 371.85,391.53 372.10,389.47 372.35,386.79 372.60,383.59 372.85,380.12 373.10,376.83 373.35,374.39 373.60,373.47 373.85,374.39 374.10,376.83 374.35,380.12 374.60,383.59 374.85,386.79 375.10,389.47 375.35,391.53 375.60,393.01 375.85,394.01 376.10,394.66 376.35,395.07 376.60,395.34 376.85,395.51 377.10,395.64 377.35,395.73 377.60,395.81 377.85,395.87 378.10,395.92 378.35,395.96 378.60,396.00 378.85,396.03 379.10,396.06 379.35,396.09 379.60,396.11 379.85,396.13 380.10,396.14 380.35,396.16 380.60,396.17 380.85,396.18 381.10,396.19 381.35,396.20 381.60,396.21 381.85,396.21 382.10,396.22 382.35,396.22 382.60,396.22 382.85,396.22 383.10,396.22 383.35,396.21 383.60,396.19 383.85,396.17 384.10,396.13 384.35,396.08 384.60,396.00 384.85,395.90 385.10,395.77 385.35,395.60 385.60,395.42 385.85,395.23 386.10,395.05 386.35,394.91 386.60,394.84 386.85,394.85 387.10,394.94 387.35,395.10 387.60,395.29 387.85,395.48 388.10,395.66 388.35,395.82 388.60,395.96 388.85,396.06 389.10,396.14 389.35,396.19 389.60,396.23 389.85,396.26 390.10,396.28 390.35,396.29 390.60,396.30 390.85,396.31 391.10,396.32 391.35,396.32 391.60,396.33 391.85,396.33 392.10,396.33 392.35,396.34 392.60,396.34 392.85,396.34 393.10,396.34 393.35,396.35 393.60,396.35 393.85,396.35 394.10,396.35 394.35,396.35 394.60,396.36 394.85,396.36 395.10,396.36 395.35,396.36 395.60,396.36 395.85,396.36 396.10,396.36 396.35,396.36 396.60,396.36 396.85,396.37 397.10,396.37 397.35,396.37 397.60,396.37 397.85,396.37 398.10,396.37 398.35,396.37 398.60,396.37 398.85,396.37 399.10,396.37 399.35,396.37 399.60,396.37 399.85,396.37 400.10,396.37 400.35,396.37 400.60,396.37 400.85,396.38 401.10,396.38 401.35,396.38 401.60,396.38 401.85,396.38 402.10,396.38 402.35,396.38 402.60,396.38 402.85,396.38 403.10,396.38 403.35,396.38 403.60,396.38 403.85,396.38 404.10,396.38 404.35,396.38 404.60,396.38 404.85,396.38 405.10,396.38 405.35,396.38 405.60,396.38 405.85,396.38 406.10,396.38 406.35,396.38 406.60,396.38 406.85,396.38 407.10,396.38 407.35,396.38 407.60,396.38 407.85,396.38 408.10,396.38 408.35,396.38 408.60,396.38 408.85,396.38 409.10,396.38 409.35,396.38 409.60,396.38 409.85,396.38 410.10,396.38 410.35,396.38 410.60,396.38 410.85,396.38 411.10,396.38 411.35,396.38 411.60,396.38 411.85,396.38 412.10,396.39 412.35,396.39 412.60,396.39 412.85,396.39 413.10,396.39 413.35,396.39 413.60,396.39 413.85,396.39 414.10,396.39 414.35,396.39 414.60,396.39 414.85,396.39 415.10,396.39 415.35,396.39 415.60,396.39 415.85,396.39 416.10,396.39 416.35,396.39 416.60,396.39 416.85,396.39 417.10,396.39 417.35,396.39 417.60,396.39 417.85,396.39 418.10,396.39 418.35,396.39 418.60,396.39 418.85,396.39 419.10,396.39 419.35,396.39 419.60,396.39 419.85,396.39 420.10,396.39 420.35,396.39 420.60,396.39 420.85,396.39 421.10,396.39 421.35,396.38 421.60,396.38 421.85,396.38 422.10,396.38 422.35,396.38 422.60,396.38 422.85,396.38 423.10,396.38 423.35,396.38 423.60,396.38 423.85,396.38 424.10,396.38 424.35,396.38 424.60,396.38 424.85,396.38 425.10,396.38 425.35,396.38 425.60,396.38 425.85,396.38 426.10,396.38 426.35,396.37 426.60,396.37 426.85,396.37 427.10,396.37 427.35,396.37 427.60,396.36 427.85,396.36 428.10,396.36 428.35,396.35 428.60,396.34 428.85,396.33 429.10,396.32 429.35,396.29 429.60,396.25 429.85,396.20 430.10,396.12 430.35,396.02 430.60,395.90 430.85,395.75 431.10,395.60 431.35,395.46 431.60,395.34 431.85,395.29 432.10,395.32 432.35,395.41 432.60,395.54 432.85,395.69 433.10,395.84 433.35,395.98 433.60,396.09 433.85,396.17 434.10,396.23 434.35,396.28 434.60,396.31 434.85,396.33 435.10,396.34 435.35,396.35 435.60,396.35 435.85,396.36 436.10,396.36 436.35,396.37 436.60,396.37 436.85,396.37 437.10,396.37 437.35,396.37 437.60,396.38 437.85,396.38 438.10,396.38 438.35,396.38 438.60,396.38 438.85,396.38 439.10,396.38 439.35,396.38 439.60,396.38 439.85,396.38 440.10,396.38 440.35,396.38 440.60,396.38 440.85,396.38 441.10,396.39 441.35,396.39 441.60,396.39 441.85,396.39 442.10,396.39 442.35,396.39 442.60,396.39 442.85,396.39 443.10,396.39 443.35,396.39 443.60,396.39 443.85,396.39 444.10,396.39 444.35,396.39 444.60,396.39 444.85,396.39 445.10,396.39 445.35,396.39 445.60,396.39 445.85,396.39 446.10,396.39 446.35,396.39 446.60,396.39 446.85,396.39 447.10,396.39 447.35,396.39 447.60,396.39 447.85,396.39 448.10,396.39 448.35,396.39 448.60,396.39 448.85,396.39 449.10,396.39 449.35,396.39 449.60,396.39 449.85,396.39 450.10,396.39 450.35,396.39 450.60,396.39 450.85,396.39 451.10,396.39 451.35,396.39 451.60,396.39 451.85,396.39 452.10,396.39 452.35,396.39 452.60,396.39 452.85,396.39 453.10,396.39 453.35,396.39 453.60,396.39 453.85,396.39 454.10,396.39 454.35,396.39 454.60,396.39 454.85,396.39 455.10,396.39 455.35,396.39 455.60,396.39 455.85,396.39 456.10,396.39 456.35,396.39 456.60,396.39 456.85,396.39 457.10,396.38 457.35,396.38 457.60,396.38 457.85,396.38 458.10,396.38 458.35,396.38 458.60,396.38 458.85,396.38 459.10,396.38 459.35,396.38 459.60,396.38 459.85,396.38 460.10,396.38 460.35,396.38 460.60,396.38 460.85,396.38 461.10,396.38 461.35,396.38 461.60,396.38 461.85,396.38 462.10,396.38 462.35,396.38 462.60,396.38 462.85,396.38 463.10,396.38 463.35,396.38 463.60,396.37 463.85,396.37 464.10,396.37 464.35,396.37 464.60,396.37 464.85,396.37 465.10,396.37 465.35,396.37 465.60,396.37 465.85,396.37 466.10,396.37 466.35,396.36 466.60,396.36 466.85,396.36 467.10,396.36 467.35,396.36 467.60,396.36 467.85,396.35 468.10,396.35 468.35,396.35 468.60,396.35 468.85,396.35 469.10,396.34 469.35,396.34 469.60,396.34 469.85,396.33 470.10,396.33 470.35,396.33 470.60,396.32 470.85,396.32 471.10,396.31 471.35,396.30 471.60,396.30 471.85,396.29 472.10,396.28 472.35,396.27 472.60,396.26 472.85,396.25 473.10,396.24 473.35,396.22 473.60,396.20 473.85,396.18 474.10,396.16 474.35,396.13 474.60,396.09 474.85,396.05 475.10,395.99 475.35,395.91 475.60,395.80 475.85,395.61 476.10,395.32 476.35,394.88 476.60,394.21 476.85,393.27 477.10,392.03 477.35,390.53 477.60,388.85 477.85,387.22 478.10,385.93 478.35,385.31 478.60,385.58 478.85,386.64 479.10,388.18 479.35,389.87 479.60,391.46 479.85,392.81 480.10,393.87 480.35,394.64 480.60,395.17 480.85,395.51 481.10,395.73 481.35,395.87 481.60,395.97 481.85,396.03 482.10,396.08 482.35,396.12 482.60,396.15 482.85,396.17 483.10,396.19 483.35,396.21 483.60,396.23 483.85,396.24 484.10,396.26 484.35,396.27 484.60,396.28 484.85,396.29 485.10,396.29 485.35,396.30 485.60,396.31 485.85,396.31 486.10,396.32 486.35,396.32 486.60,396.33 486.85,396.33 487.10,396.34 487.35,396.34 487.60,396.34 487.85,396.34 488.10,396.35 488.35,396.35 488.60,396.35 488.85,396.35 489.10,396.36 489.35,396.36 489.60,396.36 489.85,396.36 490.10,396.36 490.35,396.36 490.60,396.37 490.85,396.37 491.10,396.37 491.35,396.37 491.60,396.37 491.85,396.37 492.10,396.37 492.35,396.37 492.60,396.37 492.85,396.37 493.10,396.37 493.35,396.38 493.60,396.38 493.85,396.38 494.10,396.38 494.35,396.38 494.60,396.38 494.85,396.38 495.10,396.38 495.35,396.38 495.60,396.38 495.85,396.38 496.10,396.38 496.35,396.38 496.60,396.38 496.85,396.38 497.10,396.38 497.35,396.38 497.60,396.38 497.85,396.38 498.10,396.38 498.35,396.38 498.60,396.38 498.85,396.38 499.10,396.38 499.35,396.39 499.60,396.39 499.85,396.39 500.10,396.39 500.35,396.39 500.60,396.39 500.85,396.39 501.10,396.39 501.35,396.39 501.60,396.39 501.85,396.39 502.10,396.39 502.35,396.39 502.60,396.39 502.85,396.39 503.10,396.39 503.35,396.39 503.60,396.39 503.85,396.39 504.10,396.39 504.35,396.39 504.60,396.39 504.85,396.39 505.10,396.39 505.35,396.39 505.60,396.39 505.85,396.39 506.10,396.39 506.35,396.39 506.60,396.39 506.85,396.39 507.10,396.39 507.35,396.39 507.60,396.39 507.85,396.39 508.10,396.39 508.35,396.39 508.60,396.39 508.85,396.39 509.10,396.39 509.35,396.39 509.60,396.39 509.85,396.39 510.10,396.39 510.35,396.39 510.60,396.39 510.85,396.39 511.10,396.39 511.35,396.39 511.60,396.39 511.85,396.39 512.10,396.39 512.35,396.39 512.60,396.39 512.85,396.39 513.10,396.39 513.35,396.39 513.60,396.39 513.85,396.39 514.10,396.39 514.35,396.39 514.60,396.39 514.85,396.39 515.10,396.39 515.35,396.39 515.60,396.39 515.85,396.39 516.10,396.39 516.35,396.39 516.60,396.39 516.85,396.39 517.10,396.39 517.35,396.39 517.60,396.39 517.85,396.39 518.10,396.39 518.35,396.39 518.60,396.39 518.85,396.39 519.10,396.39 519.35,396.39 519.60,396.39 519.85,396.39 520.10,396.39 520.35,396.39 520.60,396.39 520.85,396.39 521.10,396.39 521.35,396.39 521.60,396.39 521.85,396.39 522.10,396.39 522.35,396.39 522.60,396.39 522.85,396.39 523.10,396.39 523.35,396.39 523.60,396.39 523.85,396.39 524.10,396.39 524.35,396.39 524.60,396.39 524.85,396.39 525.10,396.39 525.35,396.39 525.60,396.38 525.85,396.38 526.10,396.38 526.35,396.38 526.60,396.38 526.85,396.38 527.10,396.38 527.35,396.38 527.60,396.38 527.85,396.38 528.10,396.38 528.35,396.38 528.60,396.38 528.85,396.38 529.10,396.38 529.35,396.38 529.60,396.38 529.85,396.38 530.10,396.38 530.35,396.38 530.60,396.38 530.85,396.38 531.10,396.38 531.35,396.37 531.60,396.37 531.85,396.37 532.10,396.37 532.35,396.37 532.60,396.37 532.85,396.37 533.10,396.37 533.35,396.37 533.60,396.37 533.85,396.37 534.10,396.36 534.35,396.36 534.60,396.36 534.85,396.36 535.10,396.36 535.35,396.36 535.60,396.35 535.85,396.35 536.10,396.35 536.35,396.35 536.60,396.34 536.85,396.34 537.10,396.34 537.35,396.34 537.60,396.33 537.85,396.33 538.10,396.32 538.35,396.32 538.60,396.31 538.85,396.31 539.10,396.30 539.35,396.30 539.60,396.29 539.85,396.28 540.10,396.27 540.35,396.26 540.60,396.25 540.85,396.24 541.10,396.22 541.35,396.20 541.60,396.18 541.85,396.16 542.10,396.13 542.35,396.10 542.60,396.05 542.85,395.99 543.10,395.91 543.35,395.79 543.60,395.60 543.85,395.32 544.10,394.89 544.35,394.26 544.60,393.39 544.85,392.26 545.10,390.91 545.35,389.41 545.60,387.94 545.85,386.72 546.10,386.06 546.35,386.14 546.60,386.93 546.85,388.22 547.10,389.72 547.35,391.19 547.60,392.51 547.85,393.58 548.10,394.40 548.35,394.99 548.60,395.38 548.85,395.65 549.10,395.82 549.35,395.93 549.60,396.01 549.85,396.06 550.10,396.10 550.35,396.13 550.60,396.16 550.85,396.18 551.10,396.20 551.35,396.22 551.60,396.24 551.85,396.25 552.10,396.26 552.35,396.27 552.60,396.28 552.85,396.29 553.10,396.29 553.35,396.30 553.60,396.31 553.85,396.31 554.10,396.32 554.35,396.32 554.60,396.32 554.85,396.33 555.10,396.33 555.35,396.33 555.60,396.34 555.85,396.34 556.10,396.34 556.35,396.34 556.60,396.35 556.85,396.35 557.10,396.35 557.35,396.35 557.60,396.35 557.85,396.35 558.10,396.35 558.35,396.35 558.60,396.35 558.85,396.35 559.10,396.36 559.35,396.36 559.60,396.36 559.85,396.36 560.10,396.36 560.35,396.35 560.60,396.35 560.85,396.35 561.10,396.35 561.35,396.35 561.60,396.35 561.85,396.35 562.10,396.35 562.35,396.34 562.60,396.34 562.85,396.34 563.10,396.33 563.35,396.33 563.60,396.33 563.85,396.32 564.10,396.31 564.35,396.30 564.60,396.29 564.85,396.27 565.10,396.25 565.35,396.21 565.60,396.15 565.85,396.05 566.10,395.91 566.35,395.70 566.60,395.42 566.85,395.07 567.10,394.66 567.35,394.23 567.60,393.86 567.85,393.63 568.10,393.61 568.35,393.80 568.60,394.15 568.85,394.57 569.10,394.99 569.35,395.36 569.60,395.66 569.85,395.88 570.10,396.03 570.35,396.14 570.60,396.20 570.85,396.25 571.10,396.27 571.35,396.29 571.60,396.31 571.85,396.32 572.10,396.33 572.35,396.33 572.60,396.34 572.85,396.34 573.10,396.35 573.35,396.35 573.60,396.36 573.85,396.36 574.10,396.36 574.35,396.36 574.60,396.37 574.85,396.37 575.10,396.37 575.35,396.37 575.60,396.37 575.85,396.37 576.10,396.38 576.35,396.38 576.60,396.38 576.85,396.38 577.10,396.38 577.35,396.38 577.60,396.38 577.85,396.38 578.10,396.38 578.35,396.38 578.60,396.38 578.85,396.38 579.10,396.38 579.35,396.39 579.60,396.39 579.85,396.39 580.10,396.39 580.35,396.39 580.60,396.39 580.85,396.39 581.10,396.39 581.35,396.39 581.60,396.39 581.85,396.39 582.10,396.39 582.35,396.39 582.60,396.39 582.85,396.39" fill="none" stroke="#0a0a0a" stroke-width="1.15" stroke-linejoin="round" clip-path="url(#cclip)"/>
<rect x="196.7" y="214.2" width="50.9" height="12.0" fill="#fff" stroke="#9a9a9a" stroke-width="0.8"/>
<path d="M197.6 220.0H227" stroke="#fb0a10" stroke-width="1.20"/>
<text x="230.3" y="223.2" font-size="8.8" fill="#fb0a10" stroke="#fb0a10" stroke-width="0.15" textLength="15.0" lengthAdjust="spacingAndGlyphs">T6</text>
<rect x="196.7" y="277.6" width="78.9" height="11.6" fill="#fff" stroke="#9a9a9a" stroke-width="0.8"/>
<path d="M197.6 283.2H227" stroke="#0808f8" stroke-width="1.20"/>
<text x="230.3" y="286.4" font-size="8.8" fill="#0808f8" stroke="#0808f8" stroke-width="0.15" textLength="43.0" lengthAdjust="spacingAndGlyphs">As-built</text>
<rect x="196.7" y="341.3" width="79.6" height="11.0" fill="#fff" stroke="#9a9a9a" stroke-width="0.8"/>
<path d="M197.6 346.6H227" stroke="#222" stroke-width="0.95"/>
<text x="230.3" y="349.8" font-size="8.8" fill="#222" stroke="#222" stroke-width="0.15" textLength="43.5" lengthAdjust="spacingAndGlyphs">Powder</text>
<text transform="translate(290.9 264.0) rotate(-90)" font-size="8.4" font-weight="700" fill="#fb0a10" stroke="#fb0a10" stroke-width="0.3" textLength="20.0" lengthAdjust="spacingAndGlyphs">Si(111)</text>
<text transform="translate(333.7 240.2) rotate(-90)" font-size="8.4" font-weight="700" fill="#fb0a10" stroke="#fb0a10" stroke-width="0.3" textLength="20.6" lengthAdjust="spacingAndGlyphs">Al(111)</text>
<text transform="translate(364.8 236.5) rotate(-90)" font-size="8.4" font-weight="700" fill="#fb0a10" stroke="#fb0a10" stroke-width="0.3" textLength="21.0" lengthAdjust="spacingAndGlyphs">Al(200)</text>
<text transform="translate(388.8 263.0) rotate(-90)" font-size="8.4" font-weight="700" fill="#fb0a10" stroke="#fb0a10" stroke-width="0.3" textLength="20.5" lengthAdjust="spacingAndGlyphs">Si(111)</text>
<text transform="translate(433.8 265.0) rotate(-90)" font-size="8.4" font-weight="700" fill="#fb0a10" stroke="#fb0a10" stroke-width="0.3" textLength="20.5" lengthAdjust="spacingAndGlyphs">Si(311)</text>
<text transform="translate(480.0 244.0) rotate(-90)" font-size="8.4" font-weight="700" fill="#fb0a10" stroke="#fb0a10" stroke-width="0.3" textLength="21.0" lengthAdjust="spacingAndGlyphs">Al(220)</text>
<text transform="translate(499.6 266.5) rotate(-90)" font-size="8.4" font-weight="700" fill="#fb0a10" stroke="#fb0a10" stroke-width="0.3" textLength="20.1" lengthAdjust="spacingAndGlyphs">Si(400)</text>
<text transform="translate(535.3 265.8) rotate(-90)" font-size="8.4" font-weight="700" fill="#fb0a10" stroke="#fb0a10" stroke-width="0.3" textLength="20.6" lengthAdjust="spacingAndGlyphs">Si(331)</text>
<text transform="translate(547.8 244.7) rotate(-90)" font-size="8.4" font-weight="700" fill="#fb0a10" stroke="#fb0a10" stroke-width="0.3" textLength="20.1" lengthAdjust="spacingAndGlyphs">Al(311)</text>
<text transform="translate(569.7 265.3) rotate(-90)" font-size="8.4" font-weight="700" fill="#fb0a10" stroke="#fb0a10" stroke-width="0.3" textLength="20.9" lengthAdjust="spacingAndGlyphs">Al(222)</text>
<text transform="translate(294.2 328.9) rotate(-90)" font-size="8.4" font-weight="700" fill="#0808f8" stroke="#0808f8" stroke-width="0.3" textLength="20.1" lengthAdjust="spacingAndGlyphs">Si(111)</text>
<text transform="translate(338.2 309.0) rotate(-90)" font-size="8.4" font-weight="700" fill="#0808f8" stroke="#0808f8" stroke-width="0.3" textLength="21.0" lengthAdjust="spacingAndGlyphs">Al(111)</text>
<text transform="translate(369.6 298.9) rotate(-90)" font-size="8.4" font-weight="700" fill="#0808f8" stroke="#0808f8" stroke-width="0.3" textLength="20.1" lengthAdjust="spacingAndGlyphs">Al(200)</text>
<text transform="translate(391.4 330.3) rotate(-90)" font-size="8.4" font-weight="700" fill="#0808f8" stroke="#0808f8" stroke-width="0.3" textLength="20.6" lengthAdjust="spacingAndGlyphs">Si(111)</text>
<text transform="translate(437.9 330.3) rotate(-90)" font-size="8.4" font-weight="700" fill="#0808f8" stroke="#0808f8" stroke-width="0.3" textLength="20.6" lengthAdjust="spacingAndGlyphs">Si(311)</text>
<text transform="translate(483.3 319.7) rotate(-90)" font-size="8.4" font-weight="700" fill="#0808f8" stroke="#0808f8" stroke-width="0.3" textLength="20.1" lengthAdjust="spacingAndGlyphs">Al(220)</text>
<text transform="translate(549.1 322.0) rotate(-90)" font-size="8.4" font-weight="700" fill="#0808f8" stroke="#0808f8" stroke-width="0.3" textLength="20.6" lengthAdjust="spacingAndGlyphs">Al(311)</text>
<text transform="translate(572.2 329.5) rotate(-90)" font-size="8.4" font-weight="700" fill="#0808f8" stroke="#0808f8" stroke-width="0.3" textLength="19.8" lengthAdjust="spacingAndGlyphs">Al(222)</text>
<text transform="translate(291.7 391.7) rotate(-90)" font-size="8.4" font-weight="700" fill="#0a0a0a" stroke="#0a0a0a" stroke-width="0.3" textLength="20.1" lengthAdjust="spacingAndGlyphs">Si(111)</text>
<text transform="translate(336.2 364.0) rotate(-90)" font-size="8.4" font-weight="700" fill="#0a0a0a" stroke="#0a0a0a" stroke-width="0.3" textLength="20.6" lengthAdjust="spacingAndGlyphs">Al(111)</text>
<text transform="translate(368.1 374.8) rotate(-90)" font-size="8.4" font-weight="700" fill="#0a0a0a" stroke="#0a0a0a" stroke-width="0.3" textLength="20.6" lengthAdjust="spacingAndGlyphs">Al(200)</text>
<text transform="translate(390.2 392.4) rotate(-90)" font-size="8.4" font-weight="700" fill="#0a0a0a" stroke="#0a0a0a" stroke-width="0.3" textLength="20.9" lengthAdjust="spacingAndGlyphs">Si(220)</text>
<text transform="translate(435.5 394.1) rotate(-90)" font-size="8.4" font-weight="700" fill="#0a0a0a" stroke="#0a0a0a" stroke-width="0.3" textLength="20.6" lengthAdjust="spacingAndGlyphs">Si(311)</text>
<text transform="translate(481.3 384.0) rotate(-90)" font-size="8.4" font-weight="700" fill="#0a0a0a" stroke="#0a0a0a" stroke-width="0.3" textLength="20.5" lengthAdjust="spacingAndGlyphs">Al(220)</text>
<text transform="translate(549.1 384.3) rotate(-90)" font-size="8.4" font-weight="700" fill="#0a0a0a" stroke="#0a0a0a" stroke-width="0.3" textLength="20.3" lengthAdjust="spacingAndGlyphs">Al(311)</text>
<text transform="translate(571.2 392.8) rotate(-90)" font-size="8.4" font-weight="700" fill="#0a0a0a" stroke="#0a0a0a" stroke-width="0.3" textLength="20.6" lengthAdjust="spacingAndGlyphs">Al(222)</text>
<text transform="translate(247.60 413.30) scale(1.450 1)" font-size="7.20" text-anchor="middle" fill="#1a1a1a" font-weight="400" stroke="#1a1a1a" stroke-width="0.18">20</text>
<text transform="translate(299.10 413.30) scale(1.450 1)" font-size="7.20" text-anchor="middle" fill="#1a1a1a" font-weight="400" stroke="#1a1a1a" stroke-width="0.18">30</text>
<text transform="translate(350.60 413.30) scale(1.450 1)" font-size="7.20" text-anchor="middle" fill="#1a1a1a" font-weight="400" stroke="#1a1a1a" stroke-width="0.18">40</text>
<text transform="translate(402.10 413.30) scale(1.450 1)" font-size="7.20" text-anchor="middle" fill="#1a1a1a" font-weight="400" stroke="#1a1a1a" stroke-width="0.18">50</text>
<text transform="translate(453.60 413.30) scale(1.450 1)" font-size="7.20" text-anchor="middle" fill="#1a1a1a" font-weight="400" stroke="#1a1a1a" stroke-width="0.18">60</text>
<text transform="translate(505.10 413.30) scale(1.450 1)" font-size="7.20" text-anchor="middle" fill="#1a1a1a" font-weight="400" stroke="#1a1a1a" stroke-width="0.18">70</text>
<text transform="translate(556.60 413.30) scale(1.450 1)" font-size="7.20" text-anchor="middle" fill="#1a1a1a" font-weight="400" stroke="#1a1a1a" stroke-width="0.18">80</text>
<text transform="translate(387.40 427.90) scale(1.340 1)" font-size="11.00" text-anchor="middle" fill="#1a1a1a" font-weight="400" stroke="#1a1a1a" stroke-width="0.18">2θ (°)</text>
<text transform="translate(184.8 339.6) rotate(-90)" font-size="14.4" fill="#1a1a1a" textLength="62.2" lengthAdjust="spacingAndGlyphs">Intensity (a.u)</text>
</g>
</svg></body></html>
